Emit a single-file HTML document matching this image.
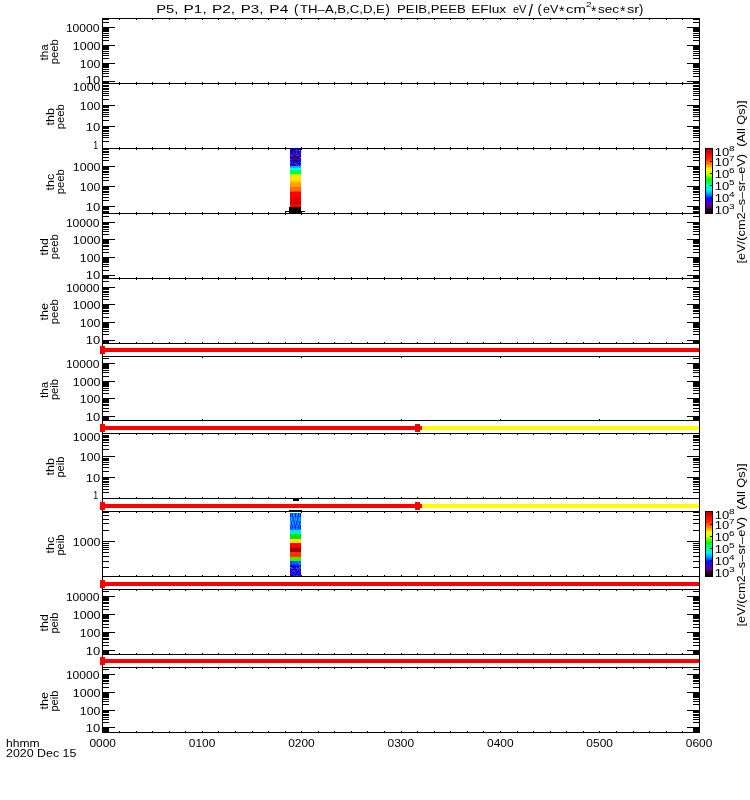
<!DOCTYPE html>
<html><head><meta charset="utf-8"><style>
html,body{margin:0;padding:0;background:#fff;width:750px;height:800px;overflow:hidden}
svg{display:block}
text{font-family:"Liberation Sans",sans-serif;fill:#000}
</style></head><body>
<svg width="750" height="800" viewBox="0 0 750 800" font-family="Liberation Sans, sans-serif">
<defs><linearGradient id="cb" x1="0" y1="0" x2="0" y2="1">
<stop offset="0.0000" stop-color="#b40000"/>
<stop offset="0.0547" stop-color="#e00000"/>
<stop offset="0.0781" stop-color="#ff0000"/>
<stop offset="0.1484" stop-color="#ff2800"/>
<stop offset="0.2031" stop-color="#ff6000"/>
<stop offset="0.2578" stop-color="#ffa000"/>
<stop offset="0.3203" stop-color="#ffff00"/>
<stop offset="0.3984" stop-color="#c0ff00"/>
<stop offset="0.4766" stop-color="#00ff00"/>
<stop offset="0.5625" stop-color="#00ff9a"/>
<stop offset="0.6406" stop-color="#00f0ff"/>
<stop offset="0.7109" stop-color="#0090ff"/>
<stop offset="0.7734" stop-color="#0010ff"/>
<stop offset="0.8281" stop-color="#4000e0"/>
<stop offset="0.8906" stop-color="#600090"/>
<stop offset="0.9375" stop-color="#300030"/>
<stop offset="0.9766" stop-color="#100008"/>
<stop offset="1.0000" stop-color="#000000"/>
</linearGradient><filter id="idf" filterUnits="userSpaceOnUse" x="0" y="0" width="750" height="800"><feColorMatrix type="identity"/></filter></defs>
<rect x="0" y="0" width="750" height="800" fill="#fff"/>
<g shape-rendering="crispEdges">
<rect x="102" y="18" width="598" height="1" fill="#000"/>
<rect x="102" y="83" width="598" height="1" fill="#000"/>
<rect x="102" y="18" width="1" height="66" fill="#000"/>
<rect x="699" y="18" width="1" height="66" fill="#000"/>
<rect x="102" y="82" width="7" height="1" fill="#000"/>
<rect x="693" y="82" width="7" height="1" fill="#000"/>
<rect x="102" y="81" width="13" height="1" fill="#000"/>
<rect x="687" y="81" width="13" height="1" fill="#000"/>
<rect x="102" y="76" width="7" height="1" fill="#000"/>
<rect x="693" y="76" width="7" height="1" fill="#000"/>
<rect x="102" y="73" width="7" height="1" fill="#000"/>
<rect x="693" y="73" width="7" height="1" fill="#000"/>
<rect x="102" y="71" width="7" height="1" fill="#000"/>
<rect x="693" y="71" width="7" height="1" fill="#000"/>
<rect x="102" y="69" width="7" height="1" fill="#000"/>
<rect x="693" y="69" width="7" height="1" fill="#000"/>
<rect x="102" y="67" width="7" height="1" fill="#000"/>
<rect x="693" y="67" width="7" height="1" fill="#000"/>
<rect x="102" y="66" width="7" height="1" fill="#000"/>
<rect x="693" y="66" width="7" height="1" fill="#000"/>
<rect x="102" y="65" width="7" height="1" fill="#000"/>
<rect x="693" y="65" width="7" height="1" fill="#000"/>
<rect x="102" y="64" width="7" height="1" fill="#000"/>
<rect x="693" y="64" width="7" height="1" fill="#000"/>
<rect x="102" y="63" width="13" height="1" fill="#000"/>
<rect x="687" y="63" width="13" height="1" fill="#000"/>
<rect x="102" y="58" width="7" height="1" fill="#000"/>
<rect x="693" y="58" width="7" height="1" fill="#000"/>
<rect x="102" y="55" width="7" height="1" fill="#000"/>
<rect x="693" y="55" width="7" height="1" fill="#000"/>
<rect x="102" y="53" width="7" height="1" fill="#000"/>
<rect x="693" y="53" width="7" height="1" fill="#000"/>
<rect x="102" y="51" width="7" height="1" fill="#000"/>
<rect x="693" y="51" width="7" height="1" fill="#000"/>
<rect x="102" y="49" width="7" height="1" fill="#000"/>
<rect x="693" y="49" width="7" height="1" fill="#000"/>
<rect x="102" y="48" width="7" height="1" fill="#000"/>
<rect x="693" y="48" width="7" height="1" fill="#000"/>
<rect x="102" y="47" width="7" height="1" fill="#000"/>
<rect x="693" y="47" width="7" height="1" fill="#000"/>
<rect x="102" y="46" width="7" height="1" fill="#000"/>
<rect x="693" y="46" width="7" height="1" fill="#000"/>
<rect x="102" y="45" width="13" height="1" fill="#000"/>
<rect x="687" y="45" width="13" height="1" fill="#000"/>
<rect x="102" y="40" width="7" height="1" fill="#000"/>
<rect x="693" y="40" width="7" height="1" fill="#000"/>
<rect x="102" y="37" width="7" height="1" fill="#000"/>
<rect x="693" y="37" width="7" height="1" fill="#000"/>
<rect x="102" y="35" width="7" height="1" fill="#000"/>
<rect x="693" y="35" width="7" height="1" fill="#000"/>
<rect x="102" y="33" width="7" height="1" fill="#000"/>
<rect x="693" y="33" width="7" height="1" fill="#000"/>
<rect x="102" y="31" width="7" height="1" fill="#000"/>
<rect x="693" y="31" width="7" height="1" fill="#000"/>
<rect x="102" y="30" width="7" height="1" fill="#000"/>
<rect x="693" y="30" width="7" height="1" fill="#000"/>
<rect x="102" y="29" width="7" height="1" fill="#000"/>
<rect x="693" y="29" width="7" height="1" fill="#000"/>
<rect x="102" y="28" width="7" height="1" fill="#000"/>
<rect x="693" y="28" width="7" height="1" fill="#000"/>
<rect x="102" y="27" width="13" height="1" fill="#000"/>
<rect x="687" y="27" width="13" height="1" fill="#000"/>
<rect x="102" y="22" width="7" height="1" fill="#000"/>
<rect x="693" y="22" width="7" height="1" fill="#000"/>
<rect x="102" y="19" width="7" height="1" fill="#000"/>
<rect x="693" y="19" width="7" height="1" fill="#000"/>
<rect x="119" y="19" width="1" height="1" fill="#000"/>
<rect x="119" y="82" width="1" height="1" fill="#000"/>
<rect x="136" y="19" width="1" height="1" fill="#000"/>
<rect x="136" y="82" width="1" height="1" fill="#000"/>
<rect x="152" y="19" width="1" height="1" fill="#000"/>
<rect x="152" y="82" width="1" height="1" fill="#000"/>
<rect x="169" y="19" width="1" height="1" fill="#000"/>
<rect x="169" y="82" width="1" height="1" fill="#000"/>
<rect x="185" y="19" width="1" height="1" fill="#000"/>
<rect x="185" y="82" width="1" height="1" fill="#000"/>
<rect x="202" y="19" width="1" height="1" fill="#000"/>
<rect x="202" y="82" width="1" height="1" fill="#000"/>
<rect x="218" y="19" width="1" height="1" fill="#000"/>
<rect x="218" y="82" width="1" height="1" fill="#000"/>
<rect x="235" y="19" width="1" height="1" fill="#000"/>
<rect x="235" y="82" width="1" height="1" fill="#000"/>
<rect x="252" y="19" width="1" height="1" fill="#000"/>
<rect x="252" y="82" width="1" height="1" fill="#000"/>
<rect x="268" y="19" width="1" height="1" fill="#000"/>
<rect x="268" y="82" width="1" height="1" fill="#000"/>
<rect x="285" y="19" width="1" height="1" fill="#000"/>
<rect x="285" y="82" width="1" height="1" fill="#000"/>
<rect x="301" y="19" width="1" height="1" fill="#000"/>
<rect x="301" y="82" width="1" height="1" fill="#000"/>
<rect x="318" y="19" width="1" height="1" fill="#000"/>
<rect x="318" y="82" width="1" height="1" fill="#000"/>
<rect x="334" y="19" width="1" height="1" fill="#000"/>
<rect x="334" y="82" width="1" height="1" fill="#000"/>
<rect x="351" y="19" width="1" height="1" fill="#000"/>
<rect x="351" y="82" width="1" height="1" fill="#000"/>
<rect x="367" y="19" width="1" height="1" fill="#000"/>
<rect x="367" y="82" width="1" height="1" fill="#000"/>
<rect x="384" y="19" width="1" height="1" fill="#000"/>
<rect x="384" y="82" width="1" height="1" fill="#000"/>
<rect x="401" y="19" width="1" height="1" fill="#000"/>
<rect x="401" y="82" width="1" height="1" fill="#000"/>
<rect x="417" y="19" width="1" height="1" fill="#000"/>
<rect x="417" y="82" width="1" height="1" fill="#000"/>
<rect x="434" y="19" width="1" height="1" fill="#000"/>
<rect x="434" y="82" width="1" height="1" fill="#000"/>
<rect x="450" y="19" width="1" height="1" fill="#000"/>
<rect x="450" y="82" width="1" height="1" fill="#000"/>
<rect x="467" y="19" width="1" height="1" fill="#000"/>
<rect x="467" y="82" width="1" height="1" fill="#000"/>
<rect x="483" y="19" width="1" height="1" fill="#000"/>
<rect x="483" y="82" width="1" height="1" fill="#000"/>
<rect x="500" y="19" width="1" height="1" fill="#000"/>
<rect x="500" y="82" width="1" height="1" fill="#000"/>
<rect x="517" y="19" width="1" height="1" fill="#000"/>
<rect x="517" y="82" width="1" height="1" fill="#000"/>
<rect x="533" y="19" width="1" height="1" fill="#000"/>
<rect x="533" y="82" width="1" height="1" fill="#000"/>
<rect x="550" y="19" width="1" height="1" fill="#000"/>
<rect x="550" y="82" width="1" height="1" fill="#000"/>
<rect x="566" y="19" width="1" height="1" fill="#000"/>
<rect x="566" y="82" width="1" height="1" fill="#000"/>
<rect x="583" y="19" width="1" height="1" fill="#000"/>
<rect x="583" y="82" width="1" height="1" fill="#000"/>
<rect x="599" y="19" width="1" height="1" fill="#000"/>
<rect x="599" y="82" width="1" height="1" fill="#000"/>
<rect x="616" y="19" width="1" height="1" fill="#000"/>
<rect x="616" y="82" width="1" height="1" fill="#000"/>
<rect x="633" y="19" width="1" height="1" fill="#000"/>
<rect x="633" y="82" width="1" height="1" fill="#000"/>
<rect x="649" y="19" width="1" height="1" fill="#000"/>
<rect x="649" y="82" width="1" height="1" fill="#000"/>
<rect x="666" y="19" width="1" height="1" fill="#000"/>
<rect x="666" y="82" width="1" height="1" fill="#000"/>
<rect x="682" y="19" width="1" height="1" fill="#000"/>
<rect x="682" y="82" width="1" height="1" fill="#000"/>
<rect x="102" y="83" width="598" height="1" fill="#000"/>
<rect x="102" y="148" width="598" height="1" fill="#000"/>
<rect x="102" y="83" width="1" height="66" fill="#000"/>
<rect x="699" y="83" width="1" height="66" fill="#000"/>
<rect x="102" y="141" width="7" height="1" fill="#000"/>
<rect x="693" y="141" width="7" height="1" fill="#000"/>
<rect x="102" y="137" width="7" height="1" fill="#000"/>
<rect x="693" y="137" width="7" height="1" fill="#000"/>
<rect x="102" y="135" width="7" height="1" fill="#000"/>
<rect x="693" y="135" width="7" height="1" fill="#000"/>
<rect x="102" y="133" width="7" height="1" fill="#000"/>
<rect x="693" y="133" width="7" height="1" fill="#000"/>
<rect x="102" y="131" width="7" height="1" fill="#000"/>
<rect x="693" y="131" width="7" height="1" fill="#000"/>
<rect x="102" y="130" width="7" height="1" fill="#000"/>
<rect x="693" y="130" width="7" height="1" fill="#000"/>
<rect x="102" y="128" width="7" height="1" fill="#000"/>
<rect x="693" y="128" width="7" height="1" fill="#000"/>
<rect x="102" y="127" width="7" height="1" fill="#000"/>
<rect x="693" y="127" width="7" height="1" fill="#000"/>
<rect x="102" y="126" width="13" height="1" fill="#000"/>
<rect x="687" y="126" width="13" height="1" fill="#000"/>
<rect x="102" y="120" width="7" height="1" fill="#000"/>
<rect x="693" y="120" width="7" height="1" fill="#000"/>
<rect x="102" y="116" width="7" height="1" fill="#000"/>
<rect x="693" y="116" width="7" height="1" fill="#000"/>
<rect x="102" y="114" width="7" height="1" fill="#000"/>
<rect x="693" y="114" width="7" height="1" fill="#000"/>
<rect x="102" y="112" width="7" height="1" fill="#000"/>
<rect x="693" y="112" width="7" height="1" fill="#000"/>
<rect x="102" y="110" width="7" height="1" fill="#000"/>
<rect x="693" y="110" width="7" height="1" fill="#000"/>
<rect x="102" y="109" width="7" height="1" fill="#000"/>
<rect x="693" y="109" width="7" height="1" fill="#000"/>
<rect x="102" y="107" width="7" height="1" fill="#000"/>
<rect x="693" y="107" width="7" height="1" fill="#000"/>
<rect x="102" y="106" width="7" height="1" fill="#000"/>
<rect x="693" y="106" width="7" height="1" fill="#000"/>
<rect x="102" y="105" width="13" height="1" fill="#000"/>
<rect x="687" y="105" width="13" height="1" fill="#000"/>
<rect x="102" y="99" width="7" height="1" fill="#000"/>
<rect x="693" y="99" width="7" height="1" fill="#000"/>
<rect x="102" y="95" width="7" height="1" fill="#000"/>
<rect x="693" y="95" width="7" height="1" fill="#000"/>
<rect x="102" y="93" width="7" height="1" fill="#000"/>
<rect x="693" y="93" width="7" height="1" fill="#000"/>
<rect x="102" y="91" width="7" height="1" fill="#000"/>
<rect x="693" y="91" width="7" height="1" fill="#000"/>
<rect x="102" y="89" width="7" height="1" fill="#000"/>
<rect x="693" y="89" width="7" height="1" fill="#000"/>
<rect x="102" y="88" width="7" height="1" fill="#000"/>
<rect x="693" y="88" width="7" height="1" fill="#000"/>
<rect x="102" y="86" width="7" height="1" fill="#000"/>
<rect x="693" y="86" width="7" height="1" fill="#000"/>
<rect x="102" y="85" width="7" height="1" fill="#000"/>
<rect x="693" y="85" width="7" height="1" fill="#000"/>
<rect x="119" y="84" width="1" height="1" fill="#000"/>
<rect x="119" y="147" width="1" height="1" fill="#000"/>
<rect x="136" y="84" width="1" height="1" fill="#000"/>
<rect x="136" y="147" width="1" height="1" fill="#000"/>
<rect x="152" y="84" width="1" height="1" fill="#000"/>
<rect x="152" y="147" width="1" height="1" fill="#000"/>
<rect x="169" y="84" width="1" height="1" fill="#000"/>
<rect x="169" y="147" width="1" height="1" fill="#000"/>
<rect x="185" y="84" width="1" height="1" fill="#000"/>
<rect x="185" y="147" width="1" height="1" fill="#000"/>
<rect x="202" y="84" width="1" height="1" fill="#000"/>
<rect x="202" y="147" width="1" height="1" fill="#000"/>
<rect x="218" y="84" width="1" height="1" fill="#000"/>
<rect x="218" y="147" width="1" height="1" fill="#000"/>
<rect x="235" y="84" width="1" height="1" fill="#000"/>
<rect x="235" y="147" width="1" height="1" fill="#000"/>
<rect x="252" y="84" width="1" height="1" fill="#000"/>
<rect x="252" y="147" width="1" height="1" fill="#000"/>
<rect x="268" y="84" width="1" height="1" fill="#000"/>
<rect x="268" y="147" width="1" height="1" fill="#000"/>
<rect x="285" y="84" width="1" height="1" fill="#000"/>
<rect x="285" y="147" width="1" height="1" fill="#000"/>
<rect x="301" y="84" width="1" height="1" fill="#000"/>
<rect x="301" y="147" width="1" height="1" fill="#000"/>
<rect x="318" y="84" width="1" height="1" fill="#000"/>
<rect x="318" y="147" width="1" height="1" fill="#000"/>
<rect x="334" y="84" width="1" height="1" fill="#000"/>
<rect x="334" y="147" width="1" height="1" fill="#000"/>
<rect x="351" y="84" width="1" height="1" fill="#000"/>
<rect x="351" y="147" width="1" height="1" fill="#000"/>
<rect x="367" y="84" width="1" height="1" fill="#000"/>
<rect x="367" y="147" width="1" height="1" fill="#000"/>
<rect x="384" y="84" width="1" height="1" fill="#000"/>
<rect x="384" y="147" width="1" height="1" fill="#000"/>
<rect x="401" y="84" width="1" height="1" fill="#000"/>
<rect x="401" y="147" width="1" height="1" fill="#000"/>
<rect x="417" y="84" width="1" height="1" fill="#000"/>
<rect x="417" y="147" width="1" height="1" fill="#000"/>
<rect x="434" y="84" width="1" height="1" fill="#000"/>
<rect x="434" y="147" width="1" height="1" fill="#000"/>
<rect x="450" y="84" width="1" height="1" fill="#000"/>
<rect x="450" y="147" width="1" height="1" fill="#000"/>
<rect x="467" y="84" width="1" height="1" fill="#000"/>
<rect x="467" y="147" width="1" height="1" fill="#000"/>
<rect x="483" y="84" width="1" height="1" fill="#000"/>
<rect x="483" y="147" width="1" height="1" fill="#000"/>
<rect x="500" y="84" width="1" height="1" fill="#000"/>
<rect x="500" y="147" width="1" height="1" fill="#000"/>
<rect x="517" y="84" width="1" height="1" fill="#000"/>
<rect x="517" y="147" width="1" height="1" fill="#000"/>
<rect x="533" y="84" width="1" height="1" fill="#000"/>
<rect x="533" y="147" width="1" height="1" fill="#000"/>
<rect x="550" y="84" width="1" height="1" fill="#000"/>
<rect x="550" y="147" width="1" height="1" fill="#000"/>
<rect x="566" y="84" width="1" height="1" fill="#000"/>
<rect x="566" y="147" width="1" height="1" fill="#000"/>
<rect x="583" y="84" width="1" height="1" fill="#000"/>
<rect x="583" y="147" width="1" height="1" fill="#000"/>
<rect x="599" y="84" width="1" height="1" fill="#000"/>
<rect x="599" y="147" width="1" height="1" fill="#000"/>
<rect x="616" y="84" width="1" height="1" fill="#000"/>
<rect x="616" y="147" width="1" height="1" fill="#000"/>
<rect x="633" y="84" width="1" height="1" fill="#000"/>
<rect x="633" y="147" width="1" height="1" fill="#000"/>
<rect x="649" y="84" width="1" height="1" fill="#000"/>
<rect x="649" y="147" width="1" height="1" fill="#000"/>
<rect x="666" y="84" width="1" height="1" fill="#000"/>
<rect x="666" y="147" width="1" height="1" fill="#000"/>
<rect x="682" y="84" width="1" height="1" fill="#000"/>
<rect x="682" y="147" width="1" height="1" fill="#000"/>
<rect x="102" y="148" width="598" height="1" fill="#000"/>
<rect x="102" y="213" width="598" height="1" fill="#000"/>
<rect x="102" y="148" width="1" height="66" fill="#000"/>
<rect x="699" y="148" width="1" height="66" fill="#000"/>
<rect x="102" y="212" width="7" height="1" fill="#000"/>
<rect x="693" y="212" width="7" height="1" fill="#000"/>
<rect x="102" y="211" width="7" height="1" fill="#000"/>
<rect x="693" y="211" width="7" height="1" fill="#000"/>
<rect x="102" y="209" width="7" height="1" fill="#000"/>
<rect x="693" y="209" width="7" height="1" fill="#000"/>
<rect x="102" y="208" width="7" height="1" fill="#000"/>
<rect x="693" y="208" width="7" height="1" fill="#000"/>
<rect x="102" y="207" width="7" height="1" fill="#000"/>
<rect x="693" y="207" width="7" height="1" fill="#000"/>
<rect x="102" y="206" width="13" height="1" fill="#000"/>
<rect x="687" y="206" width="13" height="1" fill="#000"/>
<rect x="102" y="200" width="7" height="1" fill="#000"/>
<rect x="693" y="200" width="7" height="1" fill="#000"/>
<rect x="102" y="197" width="7" height="1" fill="#000"/>
<rect x="693" y="197" width="7" height="1" fill="#000"/>
<rect x="102" y="194" width="7" height="1" fill="#000"/>
<rect x="693" y="194" width="7" height="1" fill="#000"/>
<rect x="102" y="192" width="7" height="1" fill="#000"/>
<rect x="693" y="192" width="7" height="1" fill="#000"/>
<rect x="102" y="191" width="7" height="1" fill="#000"/>
<rect x="693" y="191" width="7" height="1" fill="#000"/>
<rect x="102" y="189" width="7" height="1" fill="#000"/>
<rect x="693" y="189" width="7" height="1" fill="#000"/>
<rect x="102" y="188" width="7" height="1" fill="#000"/>
<rect x="693" y="188" width="7" height="1" fill="#000"/>
<rect x="102" y="187" width="7" height="1" fill="#000"/>
<rect x="693" y="187" width="7" height="1" fill="#000"/>
<rect x="102" y="186" width="13" height="1" fill="#000"/>
<rect x="687" y="186" width="13" height="1" fill="#000"/>
<rect x="102" y="180" width="7" height="1" fill="#000"/>
<rect x="693" y="180" width="7" height="1" fill="#000"/>
<rect x="102" y="177" width="7" height="1" fill="#000"/>
<rect x="693" y="177" width="7" height="1" fill="#000"/>
<rect x="102" y="174" width="7" height="1" fill="#000"/>
<rect x="693" y="174" width="7" height="1" fill="#000"/>
<rect x="102" y="172" width="7" height="1" fill="#000"/>
<rect x="693" y="172" width="7" height="1" fill="#000"/>
<rect x="102" y="171" width="7" height="1" fill="#000"/>
<rect x="693" y="171" width="7" height="1" fill="#000"/>
<rect x="102" y="169" width="7" height="1" fill="#000"/>
<rect x="693" y="169" width="7" height="1" fill="#000"/>
<rect x="102" y="168" width="7" height="1" fill="#000"/>
<rect x="693" y="168" width="7" height="1" fill="#000"/>
<rect x="102" y="167" width="7" height="1" fill="#000"/>
<rect x="693" y="167" width="7" height="1" fill="#000"/>
<rect x="102" y="166" width="13" height="1" fill="#000"/>
<rect x="687" y="166" width="13" height="1" fill="#000"/>
<rect x="102" y="160" width="7" height="1" fill="#000"/>
<rect x="693" y="160" width="7" height="1" fill="#000"/>
<rect x="102" y="157" width="7" height="1" fill="#000"/>
<rect x="693" y="157" width="7" height="1" fill="#000"/>
<rect x="102" y="154" width="7" height="1" fill="#000"/>
<rect x="693" y="154" width="7" height="1" fill="#000"/>
<rect x="102" y="152" width="7" height="1" fill="#000"/>
<rect x="693" y="152" width="7" height="1" fill="#000"/>
<rect x="102" y="151" width="7" height="1" fill="#000"/>
<rect x="693" y="151" width="7" height="1" fill="#000"/>
<rect x="102" y="149" width="7" height="1" fill="#000"/>
<rect x="693" y="149" width="7" height="1" fill="#000"/>
<rect x="119" y="149" width="1" height="1" fill="#000"/>
<rect x="119" y="212" width="1" height="1" fill="#000"/>
<rect x="136" y="149" width="1" height="1" fill="#000"/>
<rect x="136" y="212" width="1" height="1" fill="#000"/>
<rect x="152" y="149" width="1" height="1" fill="#000"/>
<rect x="152" y="212" width="1" height="1" fill="#000"/>
<rect x="169" y="149" width="1" height="1" fill="#000"/>
<rect x="169" y="212" width="1" height="1" fill="#000"/>
<rect x="185" y="149" width="1" height="1" fill="#000"/>
<rect x="185" y="212" width="1" height="1" fill="#000"/>
<rect x="202" y="149" width="1" height="1" fill="#000"/>
<rect x="202" y="212" width="1" height="1" fill="#000"/>
<rect x="218" y="149" width="1" height="1" fill="#000"/>
<rect x="218" y="212" width="1" height="1" fill="#000"/>
<rect x="235" y="149" width="1" height="1" fill="#000"/>
<rect x="235" y="212" width="1" height="1" fill="#000"/>
<rect x="252" y="149" width="1" height="1" fill="#000"/>
<rect x="252" y="212" width="1" height="1" fill="#000"/>
<rect x="268" y="149" width="1" height="1" fill="#000"/>
<rect x="268" y="212" width="1" height="1" fill="#000"/>
<rect x="285" y="149" width="1" height="1" fill="#000"/>
<rect x="285" y="212" width="1" height="1" fill="#000"/>
<rect x="301" y="149" width="1" height="1" fill="#000"/>
<rect x="301" y="212" width="1" height="1" fill="#000"/>
<rect x="318" y="149" width="1" height="1" fill="#000"/>
<rect x="318" y="212" width="1" height="1" fill="#000"/>
<rect x="334" y="149" width="1" height="1" fill="#000"/>
<rect x="334" y="212" width="1" height="1" fill="#000"/>
<rect x="351" y="149" width="1" height="1" fill="#000"/>
<rect x="351" y="212" width="1" height="1" fill="#000"/>
<rect x="367" y="149" width="1" height="1" fill="#000"/>
<rect x="367" y="212" width="1" height="1" fill="#000"/>
<rect x="384" y="149" width="1" height="1" fill="#000"/>
<rect x="384" y="212" width="1" height="1" fill="#000"/>
<rect x="401" y="149" width="1" height="1" fill="#000"/>
<rect x="401" y="212" width="1" height="1" fill="#000"/>
<rect x="417" y="149" width="1" height="1" fill="#000"/>
<rect x="417" y="212" width="1" height="1" fill="#000"/>
<rect x="434" y="149" width="1" height="1" fill="#000"/>
<rect x="434" y="212" width="1" height="1" fill="#000"/>
<rect x="450" y="149" width="1" height="1" fill="#000"/>
<rect x="450" y="212" width="1" height="1" fill="#000"/>
<rect x="467" y="149" width="1" height="1" fill="#000"/>
<rect x="467" y="212" width="1" height="1" fill="#000"/>
<rect x="483" y="149" width="1" height="1" fill="#000"/>
<rect x="483" y="212" width="1" height="1" fill="#000"/>
<rect x="500" y="149" width="1" height="1" fill="#000"/>
<rect x="500" y="212" width="1" height="1" fill="#000"/>
<rect x="517" y="149" width="1" height="1" fill="#000"/>
<rect x="517" y="212" width="1" height="1" fill="#000"/>
<rect x="533" y="149" width="1" height="1" fill="#000"/>
<rect x="533" y="212" width="1" height="1" fill="#000"/>
<rect x="550" y="149" width="1" height="1" fill="#000"/>
<rect x="550" y="212" width="1" height="1" fill="#000"/>
<rect x="566" y="149" width="1" height="1" fill="#000"/>
<rect x="566" y="212" width="1" height="1" fill="#000"/>
<rect x="583" y="149" width="1" height="1" fill="#000"/>
<rect x="583" y="212" width="1" height="1" fill="#000"/>
<rect x="599" y="149" width="1" height="1" fill="#000"/>
<rect x="599" y="212" width="1" height="1" fill="#000"/>
<rect x="616" y="149" width="1" height="1" fill="#000"/>
<rect x="616" y="212" width="1" height="1" fill="#000"/>
<rect x="633" y="149" width="1" height="1" fill="#000"/>
<rect x="633" y="212" width="1" height="1" fill="#000"/>
<rect x="649" y="149" width="1" height="1" fill="#000"/>
<rect x="649" y="212" width="1" height="1" fill="#000"/>
<rect x="666" y="149" width="1" height="1" fill="#000"/>
<rect x="666" y="212" width="1" height="1" fill="#000"/>
<rect x="682" y="149" width="1" height="1" fill="#000"/>
<rect x="682" y="212" width="1" height="1" fill="#000"/>
<rect x="102" y="213" width="598" height="1" fill="#000"/>
<rect x="102" y="278" width="598" height="1" fill="#000"/>
<rect x="102" y="213" width="1" height="66" fill="#000"/>
<rect x="699" y="213" width="1" height="66" fill="#000"/>
<rect x="102" y="277" width="7" height="1" fill="#000"/>
<rect x="693" y="277" width="7" height="1" fill="#000"/>
<rect x="102" y="276" width="7" height="1" fill="#000"/>
<rect x="693" y="276" width="7" height="1" fill="#000"/>
<rect x="102" y="275" width="13" height="1" fill="#000"/>
<rect x="687" y="275" width="13" height="1" fill="#000"/>
<rect x="102" y="270" width="7" height="1" fill="#000"/>
<rect x="693" y="270" width="7" height="1" fill="#000"/>
<rect x="102" y="266" width="7" height="1" fill="#000"/>
<rect x="693" y="266" width="7" height="1" fill="#000"/>
<rect x="102" y="264" width="7" height="1" fill="#000"/>
<rect x="693" y="264" width="7" height="1" fill="#000"/>
<rect x="102" y="262" width="7" height="1" fill="#000"/>
<rect x="693" y="262" width="7" height="1" fill="#000"/>
<rect x="102" y="261" width="7" height="1" fill="#000"/>
<rect x="693" y="261" width="7" height="1" fill="#000"/>
<rect x="102" y="260" width="7" height="1" fill="#000"/>
<rect x="693" y="260" width="7" height="1" fill="#000"/>
<rect x="102" y="259" width="7" height="1" fill="#000"/>
<rect x="693" y="259" width="7" height="1" fill="#000"/>
<rect x="102" y="258" width="7" height="1" fill="#000"/>
<rect x="693" y="258" width="7" height="1" fill="#000"/>
<rect x="102" y="257" width="13" height="1" fill="#000"/>
<rect x="687" y="257" width="13" height="1" fill="#000"/>
<rect x="102" y="252" width="7" height="1" fill="#000"/>
<rect x="693" y="252" width="7" height="1" fill="#000"/>
<rect x="102" y="249" width="7" height="1" fill="#000"/>
<rect x="693" y="249" width="7" height="1" fill="#000"/>
<rect x="102" y="246" width="7" height="1" fill="#000"/>
<rect x="693" y="246" width="7" height="1" fill="#000"/>
<rect x="102" y="245" width="7" height="1" fill="#000"/>
<rect x="693" y="245" width="7" height="1" fill="#000"/>
<rect x="102" y="243" width="7" height="1" fill="#000"/>
<rect x="693" y="243" width="7" height="1" fill="#000"/>
<rect x="102" y="242" width="7" height="1" fill="#000"/>
<rect x="693" y="242" width="7" height="1" fill="#000"/>
<rect x="102" y="241" width="7" height="1" fill="#000"/>
<rect x="693" y="241" width="7" height="1" fill="#000"/>
<rect x="102" y="240" width="7" height="1" fill="#000"/>
<rect x="693" y="240" width="7" height="1" fill="#000"/>
<rect x="102" y="239" width="13" height="1" fill="#000"/>
<rect x="687" y="239" width="13" height="1" fill="#000"/>
<rect x="102" y="234" width="7" height="1" fill="#000"/>
<rect x="693" y="234" width="7" height="1" fill="#000"/>
<rect x="102" y="231" width="7" height="1" fill="#000"/>
<rect x="693" y="231" width="7" height="1" fill="#000"/>
<rect x="102" y="229" width="7" height="1" fill="#000"/>
<rect x="693" y="229" width="7" height="1" fill="#000"/>
<rect x="102" y="227" width="7" height="1" fill="#000"/>
<rect x="693" y="227" width="7" height="1" fill="#000"/>
<rect x="102" y="226" width="7" height="1" fill="#000"/>
<rect x="693" y="226" width="7" height="1" fill="#000"/>
<rect x="102" y="224" width="7" height="1" fill="#000"/>
<rect x="693" y="224" width="7" height="1" fill="#000"/>
<rect x="102" y="223" width="7" height="1" fill="#000"/>
<rect x="693" y="223" width="7" height="1" fill="#000"/>
<rect x="102" y="222" width="7" height="1" fill="#000"/>
<rect x="693" y="222" width="7" height="1" fill="#000"/>
<rect x="102" y="222" width="13" height="1" fill="#000"/>
<rect x="687" y="222" width="13" height="1" fill="#000"/>
<rect x="102" y="216" width="7" height="1" fill="#000"/>
<rect x="693" y="216" width="7" height="1" fill="#000"/>
<rect x="119" y="214" width="1" height="1" fill="#000"/>
<rect x="119" y="277" width="1" height="1" fill="#000"/>
<rect x="136" y="214" width="1" height="1" fill="#000"/>
<rect x="136" y="277" width="1" height="1" fill="#000"/>
<rect x="152" y="214" width="1" height="1" fill="#000"/>
<rect x="152" y="277" width="1" height="1" fill="#000"/>
<rect x="169" y="214" width="1" height="1" fill="#000"/>
<rect x="169" y="277" width="1" height="1" fill="#000"/>
<rect x="185" y="214" width="1" height="1" fill="#000"/>
<rect x="185" y="277" width="1" height="1" fill="#000"/>
<rect x="202" y="214" width="1" height="1" fill="#000"/>
<rect x="202" y="277" width="1" height="1" fill="#000"/>
<rect x="218" y="214" width="1" height="1" fill="#000"/>
<rect x="218" y="277" width="1" height="1" fill="#000"/>
<rect x="235" y="214" width="1" height="1" fill="#000"/>
<rect x="235" y="277" width="1" height="1" fill="#000"/>
<rect x="252" y="214" width="1" height="1" fill="#000"/>
<rect x="252" y="277" width="1" height="1" fill="#000"/>
<rect x="268" y="214" width="1" height="1" fill="#000"/>
<rect x="268" y="277" width="1" height="1" fill="#000"/>
<rect x="285" y="214" width="1" height="1" fill="#000"/>
<rect x="285" y="277" width="1" height="1" fill="#000"/>
<rect x="301" y="214" width="1" height="1" fill="#000"/>
<rect x="301" y="277" width="1" height="1" fill="#000"/>
<rect x="318" y="214" width="1" height="1" fill="#000"/>
<rect x="318" y="277" width="1" height="1" fill="#000"/>
<rect x="334" y="214" width="1" height="1" fill="#000"/>
<rect x="334" y="277" width="1" height="1" fill="#000"/>
<rect x="351" y="214" width="1" height="1" fill="#000"/>
<rect x="351" y="277" width="1" height="1" fill="#000"/>
<rect x="367" y="214" width="1" height="1" fill="#000"/>
<rect x="367" y="277" width="1" height="1" fill="#000"/>
<rect x="384" y="214" width="1" height="1" fill="#000"/>
<rect x="384" y="277" width="1" height="1" fill="#000"/>
<rect x="401" y="214" width="1" height="1" fill="#000"/>
<rect x="401" y="277" width="1" height="1" fill="#000"/>
<rect x="417" y="214" width="1" height="1" fill="#000"/>
<rect x="417" y="277" width="1" height="1" fill="#000"/>
<rect x="434" y="214" width="1" height="1" fill="#000"/>
<rect x="434" y="277" width="1" height="1" fill="#000"/>
<rect x="450" y="214" width="1" height="1" fill="#000"/>
<rect x="450" y="277" width="1" height="1" fill="#000"/>
<rect x="467" y="214" width="1" height="1" fill="#000"/>
<rect x="467" y="277" width="1" height="1" fill="#000"/>
<rect x="483" y="214" width="1" height="1" fill="#000"/>
<rect x="483" y="277" width="1" height="1" fill="#000"/>
<rect x="500" y="214" width="1" height="1" fill="#000"/>
<rect x="500" y="277" width="1" height="1" fill="#000"/>
<rect x="517" y="214" width="1" height="1" fill="#000"/>
<rect x="517" y="277" width="1" height="1" fill="#000"/>
<rect x="533" y="214" width="1" height="1" fill="#000"/>
<rect x="533" y="277" width="1" height="1" fill="#000"/>
<rect x="550" y="214" width="1" height="1" fill="#000"/>
<rect x="550" y="277" width="1" height="1" fill="#000"/>
<rect x="566" y="214" width="1" height="1" fill="#000"/>
<rect x="566" y="277" width="1" height="1" fill="#000"/>
<rect x="583" y="214" width="1" height="1" fill="#000"/>
<rect x="583" y="277" width="1" height="1" fill="#000"/>
<rect x="599" y="214" width="1" height="1" fill="#000"/>
<rect x="599" y="277" width="1" height="1" fill="#000"/>
<rect x="616" y="214" width="1" height="1" fill="#000"/>
<rect x="616" y="277" width="1" height="1" fill="#000"/>
<rect x="633" y="214" width="1" height="1" fill="#000"/>
<rect x="633" y="277" width="1" height="1" fill="#000"/>
<rect x="649" y="214" width="1" height="1" fill="#000"/>
<rect x="649" y="277" width="1" height="1" fill="#000"/>
<rect x="666" y="214" width="1" height="1" fill="#000"/>
<rect x="666" y="277" width="1" height="1" fill="#000"/>
<rect x="682" y="214" width="1" height="1" fill="#000"/>
<rect x="682" y="277" width="1" height="1" fill="#000"/>
<rect x="102" y="278" width="598" height="1" fill="#000"/>
<rect x="102" y="343" width="598" height="1" fill="#000"/>
<rect x="102" y="278" width="1" height="66" fill="#000"/>
<rect x="699" y="278" width="1" height="66" fill="#000"/>
<rect x="102" y="342" width="7" height="1" fill="#000"/>
<rect x="693" y="342" width="7" height="1" fill="#000"/>
<rect x="102" y="341" width="7" height="1" fill="#000"/>
<rect x="693" y="341" width="7" height="1" fill="#000"/>
<rect x="102" y="340" width="7" height="1" fill="#000"/>
<rect x="693" y="340" width="7" height="1" fill="#000"/>
<rect x="102" y="340" width="13" height="1" fill="#000"/>
<rect x="687" y="340" width="13" height="1" fill="#000"/>
<rect x="102" y="334" width="7" height="1" fill="#000"/>
<rect x="693" y="334" width="7" height="1" fill="#000"/>
<rect x="102" y="331" width="7" height="1" fill="#000"/>
<rect x="693" y="331" width="7" height="1" fill="#000"/>
<rect x="102" y="329" width="7" height="1" fill="#000"/>
<rect x="693" y="329" width="7" height="1" fill="#000"/>
<rect x="102" y="327" width="7" height="1" fill="#000"/>
<rect x="693" y="327" width="7" height="1" fill="#000"/>
<rect x="102" y="326" width="7" height="1" fill="#000"/>
<rect x="693" y="326" width="7" height="1" fill="#000"/>
<rect x="102" y="325" width="7" height="1" fill="#000"/>
<rect x="693" y="325" width="7" height="1" fill="#000"/>
<rect x="102" y="324" width="7" height="1" fill="#000"/>
<rect x="693" y="324" width="7" height="1" fill="#000"/>
<rect x="102" y="323" width="7" height="1" fill="#000"/>
<rect x="693" y="323" width="7" height="1" fill="#000"/>
<rect x="102" y="322" width="13" height="1" fill="#000"/>
<rect x="687" y="322" width="13" height="1" fill="#000"/>
<rect x="102" y="317" width="7" height="1" fill="#000"/>
<rect x="693" y="317" width="7" height="1" fill="#000"/>
<rect x="102" y="313" width="7" height="1" fill="#000"/>
<rect x="693" y="313" width="7" height="1" fill="#000"/>
<rect x="102" y="311" width="7" height="1" fill="#000"/>
<rect x="693" y="311" width="7" height="1" fill="#000"/>
<rect x="102" y="310" width="7" height="1" fill="#000"/>
<rect x="693" y="310" width="7" height="1" fill="#000"/>
<rect x="102" y="308" width="7" height="1" fill="#000"/>
<rect x="693" y="308" width="7" height="1" fill="#000"/>
<rect x="102" y="307" width="7" height="1" fill="#000"/>
<rect x="693" y="307" width="7" height="1" fill="#000"/>
<rect x="102" y="306" width="7" height="1" fill="#000"/>
<rect x="693" y="306" width="7" height="1" fill="#000"/>
<rect x="102" y="305" width="7" height="1" fill="#000"/>
<rect x="693" y="305" width="7" height="1" fill="#000"/>
<rect x="102" y="304" width="13" height="1" fill="#000"/>
<rect x="687" y="304" width="13" height="1" fill="#000"/>
<rect x="102" y="299" width="7" height="1" fill="#000"/>
<rect x="693" y="299" width="7" height="1" fill="#000"/>
<rect x="102" y="296" width="7" height="1" fill="#000"/>
<rect x="693" y="296" width="7" height="1" fill="#000"/>
<rect x="102" y="294" width="7" height="1" fill="#000"/>
<rect x="693" y="294" width="7" height="1" fill="#000"/>
<rect x="102" y="292" width="7" height="1" fill="#000"/>
<rect x="693" y="292" width="7" height="1" fill="#000"/>
<rect x="102" y="291" width="7" height="1" fill="#000"/>
<rect x="693" y="291" width="7" height="1" fill="#000"/>
<rect x="102" y="289" width="7" height="1" fill="#000"/>
<rect x="693" y="289" width="7" height="1" fill="#000"/>
<rect x="102" y="288" width="7" height="1" fill="#000"/>
<rect x="693" y="288" width="7" height="1" fill="#000"/>
<rect x="102" y="287" width="7" height="1" fill="#000"/>
<rect x="693" y="287" width="7" height="1" fill="#000"/>
<rect x="102" y="287" width="13" height="1" fill="#000"/>
<rect x="687" y="287" width="13" height="1" fill="#000"/>
<rect x="102" y="281" width="7" height="1" fill="#000"/>
<rect x="693" y="281" width="7" height="1" fill="#000"/>
<rect x="119" y="279" width="1" height="1" fill="#000"/>
<rect x="119" y="342" width="1" height="1" fill="#000"/>
<rect x="136" y="279" width="1" height="1" fill="#000"/>
<rect x="136" y="342" width="1" height="1" fill="#000"/>
<rect x="152" y="279" width="1" height="1" fill="#000"/>
<rect x="152" y="342" width="1" height="1" fill="#000"/>
<rect x="169" y="279" width="1" height="1" fill="#000"/>
<rect x="169" y="342" width="1" height="1" fill="#000"/>
<rect x="185" y="279" width="1" height="1" fill="#000"/>
<rect x="185" y="342" width="1" height="1" fill="#000"/>
<rect x="202" y="279" width="1" height="1" fill="#000"/>
<rect x="202" y="342" width="1" height="1" fill="#000"/>
<rect x="218" y="279" width="1" height="1" fill="#000"/>
<rect x="218" y="342" width="1" height="1" fill="#000"/>
<rect x="235" y="279" width="1" height="1" fill="#000"/>
<rect x="235" y="342" width="1" height="1" fill="#000"/>
<rect x="252" y="279" width="1" height="1" fill="#000"/>
<rect x="252" y="342" width="1" height="1" fill="#000"/>
<rect x="268" y="279" width="1" height="1" fill="#000"/>
<rect x="268" y="342" width="1" height="1" fill="#000"/>
<rect x="285" y="279" width="1" height="1" fill="#000"/>
<rect x="285" y="342" width="1" height="1" fill="#000"/>
<rect x="301" y="279" width="1" height="1" fill="#000"/>
<rect x="301" y="342" width="1" height="1" fill="#000"/>
<rect x="318" y="279" width="1" height="1" fill="#000"/>
<rect x="318" y="342" width="1" height="1" fill="#000"/>
<rect x="334" y="279" width="1" height="1" fill="#000"/>
<rect x="334" y="342" width="1" height="1" fill="#000"/>
<rect x="351" y="279" width="1" height="1" fill="#000"/>
<rect x="351" y="342" width="1" height="1" fill="#000"/>
<rect x="367" y="279" width="1" height="1" fill="#000"/>
<rect x="367" y="342" width="1" height="1" fill="#000"/>
<rect x="384" y="279" width="1" height="1" fill="#000"/>
<rect x="384" y="342" width="1" height="1" fill="#000"/>
<rect x="401" y="279" width="1" height="1" fill="#000"/>
<rect x="401" y="342" width="1" height="1" fill="#000"/>
<rect x="417" y="279" width="1" height="1" fill="#000"/>
<rect x="417" y="342" width="1" height="1" fill="#000"/>
<rect x="434" y="279" width="1" height="1" fill="#000"/>
<rect x="434" y="342" width="1" height="1" fill="#000"/>
<rect x="450" y="279" width="1" height="1" fill="#000"/>
<rect x="450" y="342" width="1" height="1" fill="#000"/>
<rect x="467" y="279" width="1" height="1" fill="#000"/>
<rect x="467" y="342" width="1" height="1" fill="#000"/>
<rect x="483" y="279" width="1" height="1" fill="#000"/>
<rect x="483" y="342" width="1" height="1" fill="#000"/>
<rect x="500" y="279" width="1" height="1" fill="#000"/>
<rect x="500" y="342" width="1" height="1" fill="#000"/>
<rect x="517" y="279" width="1" height="1" fill="#000"/>
<rect x="517" y="342" width="1" height="1" fill="#000"/>
<rect x="533" y="279" width="1" height="1" fill="#000"/>
<rect x="533" y="342" width="1" height="1" fill="#000"/>
<rect x="550" y="279" width="1" height="1" fill="#000"/>
<rect x="550" y="342" width="1" height="1" fill="#000"/>
<rect x="566" y="279" width="1" height="1" fill="#000"/>
<rect x="566" y="342" width="1" height="1" fill="#000"/>
<rect x="583" y="279" width="1" height="1" fill="#000"/>
<rect x="583" y="342" width="1" height="1" fill="#000"/>
<rect x="599" y="279" width="1" height="1" fill="#000"/>
<rect x="599" y="342" width="1" height="1" fill="#000"/>
<rect x="616" y="279" width="1" height="1" fill="#000"/>
<rect x="616" y="342" width="1" height="1" fill="#000"/>
<rect x="633" y="279" width="1" height="1" fill="#000"/>
<rect x="633" y="342" width="1" height="1" fill="#000"/>
<rect x="649" y="279" width="1" height="1" fill="#000"/>
<rect x="649" y="342" width="1" height="1" fill="#000"/>
<rect x="666" y="279" width="1" height="1" fill="#000"/>
<rect x="666" y="342" width="1" height="1" fill="#000"/>
<rect x="682" y="279" width="1" height="1" fill="#000"/>
<rect x="682" y="342" width="1" height="1" fill="#000"/>
<rect x="102" y="356" width="598" height="1" fill="#000"/>
<rect x="102" y="420" width="598" height="1" fill="#000"/>
<rect x="102" y="356" width="1" height="65" fill="#000"/>
<rect x="699" y="356" width="1" height="65" fill="#000"/>
<rect x="102" y="419" width="7" height="1" fill="#000"/>
<rect x="693" y="419" width="7" height="1" fill="#000"/>
<rect x="102" y="418" width="7" height="1" fill="#000"/>
<rect x="693" y="418" width="7" height="1" fill="#000"/>
<rect x="102" y="417" width="7" height="1" fill="#000"/>
<rect x="693" y="417" width="7" height="1" fill="#000"/>
<rect x="102" y="416" width="13" height="1" fill="#000"/>
<rect x="687" y="416" width="13" height="1" fill="#000"/>
<rect x="102" y="411" width="7" height="1" fill="#000"/>
<rect x="693" y="411" width="7" height="1" fill="#000"/>
<rect x="102" y="408" width="7" height="1" fill="#000"/>
<rect x="693" y="408" width="7" height="1" fill="#000"/>
<rect x="102" y="405" width="7" height="1" fill="#000"/>
<rect x="693" y="405" width="7" height="1" fill="#000"/>
<rect x="102" y="404" width="7" height="1" fill="#000"/>
<rect x="693" y="404" width="7" height="1" fill="#000"/>
<rect x="102" y="402" width="7" height="1" fill="#000"/>
<rect x="693" y="402" width="7" height="1" fill="#000"/>
<rect x="102" y="401" width="7" height="1" fill="#000"/>
<rect x="693" y="401" width="7" height="1" fill="#000"/>
<rect x="102" y="400" width="7" height="1" fill="#000"/>
<rect x="693" y="400" width="7" height="1" fill="#000"/>
<rect x="102" y="399" width="7" height="1" fill="#000"/>
<rect x="693" y="399" width="7" height="1" fill="#000"/>
<rect x="102" y="398" width="13" height="1" fill="#000"/>
<rect x="687" y="398" width="13" height="1" fill="#000"/>
<rect x="102" y="393" width="7" height="1" fill="#000"/>
<rect x="693" y="393" width="7" height="1" fill="#000"/>
<rect x="102" y="390" width="7" height="1" fill="#000"/>
<rect x="693" y="390" width="7" height="1" fill="#000"/>
<rect x="102" y="388" width="7" height="1" fill="#000"/>
<rect x="693" y="388" width="7" height="1" fill="#000"/>
<rect x="102" y="386" width="7" height="1" fill="#000"/>
<rect x="693" y="386" width="7" height="1" fill="#000"/>
<rect x="102" y="385" width="7" height="1" fill="#000"/>
<rect x="693" y="385" width="7" height="1" fill="#000"/>
<rect x="102" y="384" width="7" height="1" fill="#000"/>
<rect x="693" y="384" width="7" height="1" fill="#000"/>
<rect x="102" y="383" width="7" height="1" fill="#000"/>
<rect x="693" y="383" width="7" height="1" fill="#000"/>
<rect x="102" y="382" width="7" height="1" fill="#000"/>
<rect x="693" y="382" width="7" height="1" fill="#000"/>
<rect x="102" y="381" width="13" height="1" fill="#000"/>
<rect x="687" y="381" width="13" height="1" fill="#000"/>
<rect x="102" y="376" width="7" height="1" fill="#000"/>
<rect x="693" y="376" width="7" height="1" fill="#000"/>
<rect x="102" y="372" width="7" height="1" fill="#000"/>
<rect x="693" y="372" width="7" height="1" fill="#000"/>
<rect x="102" y="370" width="7" height="1" fill="#000"/>
<rect x="693" y="370" width="7" height="1" fill="#000"/>
<rect x="102" y="368" width="7" height="1" fill="#000"/>
<rect x="693" y="368" width="7" height="1" fill="#000"/>
<rect x="102" y="367" width="7" height="1" fill="#000"/>
<rect x="693" y="367" width="7" height="1" fill="#000"/>
<rect x="102" y="366" width="7" height="1" fill="#000"/>
<rect x="693" y="366" width="7" height="1" fill="#000"/>
<rect x="102" y="365" width="7" height="1" fill="#000"/>
<rect x="693" y="365" width="7" height="1" fill="#000"/>
<rect x="102" y="364" width="7" height="1" fill="#000"/>
<rect x="693" y="364" width="7" height="1" fill="#000"/>
<rect x="102" y="363" width="13" height="1" fill="#000"/>
<rect x="687" y="363" width="13" height="1" fill="#000"/>
<rect x="102" y="358" width="7" height="1" fill="#000"/>
<rect x="693" y="358" width="7" height="1" fill="#000"/>
<rect x="202" y="357" width="1" height="1" fill="#000"/>
<rect x="202" y="419" width="1" height="1" fill="#000"/>
<rect x="301" y="357" width="1" height="1" fill="#000"/>
<rect x="301" y="419" width="1" height="1" fill="#000"/>
<rect x="401" y="357" width="1" height="1" fill="#000"/>
<rect x="401" y="419" width="1" height="1" fill="#000"/>
<rect x="500" y="357" width="1" height="1" fill="#000"/>
<rect x="500" y="419" width="1" height="1" fill="#000"/>
<rect x="599" y="357" width="1" height="1" fill="#000"/>
<rect x="599" y="419" width="1" height="1" fill="#000"/>
<rect x="102" y="433" width="598" height="1" fill="#000"/>
<rect x="102" y="498" width="598" height="1" fill="#000"/>
<rect x="102" y="433" width="1" height="66" fill="#000"/>
<rect x="699" y="433" width="1" height="66" fill="#000"/>
<rect x="102" y="492" width="7" height="1" fill="#000"/>
<rect x="693" y="492" width="7" height="1" fill="#000"/>
<rect x="102" y="489" width="7" height="1" fill="#000"/>
<rect x="693" y="489" width="7" height="1" fill="#000"/>
<rect x="102" y="486" width="7" height="1" fill="#000"/>
<rect x="693" y="486" width="7" height="1" fill="#000"/>
<rect x="102" y="484" width="7" height="1" fill="#000"/>
<rect x="693" y="484" width="7" height="1" fill="#000"/>
<rect x="102" y="482" width="7" height="1" fill="#000"/>
<rect x="693" y="482" width="7" height="1" fill="#000"/>
<rect x="102" y="481" width="7" height="1" fill="#000"/>
<rect x="693" y="481" width="7" height="1" fill="#000"/>
<rect x="102" y="479" width="7" height="1" fill="#000"/>
<rect x="693" y="479" width="7" height="1" fill="#000"/>
<rect x="102" y="478" width="7" height="1" fill="#000"/>
<rect x="693" y="478" width="7" height="1" fill="#000"/>
<rect x="102" y="477" width="13" height="1" fill="#000"/>
<rect x="687" y="477" width="13" height="1" fill="#000"/>
<rect x="102" y="471" width="7" height="1" fill="#000"/>
<rect x="693" y="471" width="7" height="1" fill="#000"/>
<rect x="102" y="467" width="7" height="1" fill="#000"/>
<rect x="693" y="467" width="7" height="1" fill="#000"/>
<rect x="102" y="464" width="7" height="1" fill="#000"/>
<rect x="693" y="464" width="7" height="1" fill="#000"/>
<rect x="102" y="462" width="7" height="1" fill="#000"/>
<rect x="693" y="462" width="7" height="1" fill="#000"/>
<rect x="102" y="460" width="7" height="1" fill="#000"/>
<rect x="693" y="460" width="7" height="1" fill="#000"/>
<rect x="102" y="459" width="7" height="1" fill="#000"/>
<rect x="693" y="459" width="7" height="1" fill="#000"/>
<rect x="102" y="458" width="7" height="1" fill="#000"/>
<rect x="693" y="458" width="7" height="1" fill="#000"/>
<rect x="102" y="456" width="7" height="1" fill="#000"/>
<rect x="693" y="456" width="7" height="1" fill="#000"/>
<rect x="102" y="456" width="13" height="1" fill="#000"/>
<rect x="687" y="456" width="13" height="1" fill="#000"/>
<rect x="102" y="449" width="7" height="1" fill="#000"/>
<rect x="693" y="449" width="7" height="1" fill="#000"/>
<rect x="102" y="445" width="7" height="1" fill="#000"/>
<rect x="693" y="445" width="7" height="1" fill="#000"/>
<rect x="102" y="442" width="7" height="1" fill="#000"/>
<rect x="693" y="442" width="7" height="1" fill="#000"/>
<rect x="102" y="440" width="7" height="1" fill="#000"/>
<rect x="693" y="440" width="7" height="1" fill="#000"/>
<rect x="102" y="439" width="7" height="1" fill="#000"/>
<rect x="693" y="439" width="7" height="1" fill="#000"/>
<rect x="102" y="437" width="7" height="1" fill="#000"/>
<rect x="693" y="437" width="7" height="1" fill="#000"/>
<rect x="102" y="436" width="7" height="1" fill="#000"/>
<rect x="693" y="436" width="7" height="1" fill="#000"/>
<rect x="102" y="435" width="7" height="1" fill="#000"/>
<rect x="693" y="435" width="7" height="1" fill="#000"/>
<rect x="119" y="434" width="1" height="1" fill="#000"/>
<rect x="119" y="497" width="1" height="1" fill="#000"/>
<rect x="136" y="434" width="1" height="1" fill="#000"/>
<rect x="136" y="497" width="1" height="1" fill="#000"/>
<rect x="152" y="434" width="1" height="1" fill="#000"/>
<rect x="152" y="497" width="1" height="1" fill="#000"/>
<rect x="169" y="434" width="1" height="1" fill="#000"/>
<rect x="169" y="497" width="1" height="1" fill="#000"/>
<rect x="185" y="434" width="1" height="1" fill="#000"/>
<rect x="185" y="497" width="1" height="1" fill="#000"/>
<rect x="202" y="434" width="1" height="1" fill="#000"/>
<rect x="202" y="497" width="1" height="1" fill="#000"/>
<rect x="218" y="434" width="1" height="1" fill="#000"/>
<rect x="218" y="497" width="1" height="1" fill="#000"/>
<rect x="235" y="434" width="1" height="1" fill="#000"/>
<rect x="235" y="497" width="1" height="1" fill="#000"/>
<rect x="252" y="434" width="1" height="1" fill="#000"/>
<rect x="252" y="497" width="1" height="1" fill="#000"/>
<rect x="268" y="434" width="1" height="1" fill="#000"/>
<rect x="268" y="497" width="1" height="1" fill="#000"/>
<rect x="285" y="434" width="1" height="1" fill="#000"/>
<rect x="285" y="497" width="1" height="1" fill="#000"/>
<rect x="301" y="434" width="1" height="1" fill="#000"/>
<rect x="301" y="497" width="1" height="1" fill="#000"/>
<rect x="318" y="434" width="1" height="1" fill="#000"/>
<rect x="318" y="497" width="1" height="1" fill="#000"/>
<rect x="334" y="434" width="1" height="1" fill="#000"/>
<rect x="334" y="497" width="1" height="1" fill="#000"/>
<rect x="351" y="434" width="1" height="1" fill="#000"/>
<rect x="351" y="497" width="1" height="1" fill="#000"/>
<rect x="367" y="434" width="1" height="1" fill="#000"/>
<rect x="367" y="497" width="1" height="1" fill="#000"/>
<rect x="384" y="434" width="1" height="1" fill="#000"/>
<rect x="384" y="497" width="1" height="1" fill="#000"/>
<rect x="401" y="434" width="1" height="1" fill="#000"/>
<rect x="401" y="497" width="1" height="1" fill="#000"/>
<rect x="417" y="434" width="1" height="1" fill="#000"/>
<rect x="417" y="497" width="1" height="1" fill="#000"/>
<rect x="434" y="434" width="1" height="1" fill="#000"/>
<rect x="434" y="497" width="1" height="1" fill="#000"/>
<rect x="450" y="434" width="1" height="1" fill="#000"/>
<rect x="450" y="497" width="1" height="1" fill="#000"/>
<rect x="467" y="434" width="1" height="1" fill="#000"/>
<rect x="467" y="497" width="1" height="1" fill="#000"/>
<rect x="483" y="434" width="1" height="1" fill="#000"/>
<rect x="483" y="497" width="1" height="1" fill="#000"/>
<rect x="500" y="434" width="1" height="1" fill="#000"/>
<rect x="500" y="497" width="1" height="1" fill="#000"/>
<rect x="517" y="434" width="1" height="1" fill="#000"/>
<rect x="517" y="497" width="1" height="1" fill="#000"/>
<rect x="533" y="434" width="1" height="1" fill="#000"/>
<rect x="533" y="497" width="1" height="1" fill="#000"/>
<rect x="550" y="434" width="1" height="1" fill="#000"/>
<rect x="550" y="497" width="1" height="1" fill="#000"/>
<rect x="566" y="434" width="1" height="1" fill="#000"/>
<rect x="566" y="497" width="1" height="1" fill="#000"/>
<rect x="583" y="434" width="1" height="1" fill="#000"/>
<rect x="583" y="497" width="1" height="1" fill="#000"/>
<rect x="599" y="434" width="1" height="1" fill="#000"/>
<rect x="599" y="497" width="1" height="1" fill="#000"/>
<rect x="616" y="434" width="1" height="1" fill="#000"/>
<rect x="616" y="497" width="1" height="1" fill="#000"/>
<rect x="633" y="434" width="1" height="1" fill="#000"/>
<rect x="633" y="497" width="1" height="1" fill="#000"/>
<rect x="649" y="434" width="1" height="1" fill="#000"/>
<rect x="649" y="497" width="1" height="1" fill="#000"/>
<rect x="666" y="434" width="1" height="1" fill="#000"/>
<rect x="666" y="497" width="1" height="1" fill="#000"/>
<rect x="682" y="434" width="1" height="1" fill="#000"/>
<rect x="682" y="497" width="1" height="1" fill="#000"/>
<rect x="102" y="511" width="598" height="1" fill="#000"/>
<rect x="102" y="576" width="598" height="1" fill="#000"/>
<rect x="102" y="511" width="1" height="66" fill="#000"/>
<rect x="699" y="511" width="1" height="66" fill="#000"/>
<rect x="102" y="567" width="7" height="1" fill="#000"/>
<rect x="693" y="567" width="7" height="1" fill="#000"/>
<rect x="102" y="561" width="7" height="1" fill="#000"/>
<rect x="693" y="561" width="7" height="1" fill="#000"/>
<rect x="102" y="556" width="7" height="1" fill="#000"/>
<rect x="693" y="556" width="7" height="1" fill="#000"/>
<rect x="102" y="552" width="7" height="1" fill="#000"/>
<rect x="693" y="552" width="7" height="1" fill="#000"/>
<rect x="102" y="549" width="7" height="1" fill="#000"/>
<rect x="693" y="549" width="7" height="1" fill="#000"/>
<rect x="102" y="547" width="7" height="1" fill="#000"/>
<rect x="693" y="547" width="7" height="1" fill="#000"/>
<rect x="102" y="545" width="7" height="1" fill="#000"/>
<rect x="693" y="545" width="7" height="1" fill="#000"/>
<rect x="102" y="543" width="7" height="1" fill="#000"/>
<rect x="693" y="543" width="7" height="1" fill="#000"/>
<rect x="102" y="541" width="13" height="1" fill="#000"/>
<rect x="687" y="541" width="13" height="1" fill="#000"/>
<rect x="102" y="530" width="7" height="1" fill="#000"/>
<rect x="693" y="530" width="7" height="1" fill="#000"/>
<rect x="102" y="523" width="7" height="1" fill="#000"/>
<rect x="693" y="523" width="7" height="1" fill="#000"/>
<rect x="102" y="519" width="7" height="1" fill="#000"/>
<rect x="693" y="519" width="7" height="1" fill="#000"/>
<rect x="102" y="515" width="7" height="1" fill="#000"/>
<rect x="693" y="515" width="7" height="1" fill="#000"/>
<rect x="102" y="512" width="7" height="1" fill="#000"/>
<rect x="693" y="512" width="7" height="1" fill="#000"/>
<rect x="119" y="512" width="1" height="1" fill="#000"/>
<rect x="119" y="575" width="1" height="1" fill="#000"/>
<rect x="136" y="512" width="1" height="1" fill="#000"/>
<rect x="136" y="575" width="1" height="1" fill="#000"/>
<rect x="152" y="512" width="1" height="1" fill="#000"/>
<rect x="152" y="575" width="1" height="1" fill="#000"/>
<rect x="169" y="512" width="1" height="1" fill="#000"/>
<rect x="169" y="575" width="1" height="1" fill="#000"/>
<rect x="185" y="512" width="1" height="1" fill="#000"/>
<rect x="185" y="575" width="1" height="1" fill="#000"/>
<rect x="202" y="512" width="1" height="1" fill="#000"/>
<rect x="202" y="575" width="1" height="1" fill="#000"/>
<rect x="218" y="512" width="1" height="1" fill="#000"/>
<rect x="218" y="575" width="1" height="1" fill="#000"/>
<rect x="235" y="512" width="1" height="1" fill="#000"/>
<rect x="235" y="575" width="1" height="1" fill="#000"/>
<rect x="252" y="512" width="1" height="1" fill="#000"/>
<rect x="252" y="575" width="1" height="1" fill="#000"/>
<rect x="268" y="512" width="1" height="1" fill="#000"/>
<rect x="268" y="575" width="1" height="1" fill="#000"/>
<rect x="285" y="512" width="1" height="1" fill="#000"/>
<rect x="285" y="575" width="1" height="1" fill="#000"/>
<rect x="301" y="512" width="1" height="1" fill="#000"/>
<rect x="301" y="575" width="1" height="1" fill="#000"/>
<rect x="318" y="512" width="1" height="1" fill="#000"/>
<rect x="318" y="575" width="1" height="1" fill="#000"/>
<rect x="334" y="512" width="1" height="1" fill="#000"/>
<rect x="334" y="575" width="1" height="1" fill="#000"/>
<rect x="351" y="512" width="1" height="1" fill="#000"/>
<rect x="351" y="575" width="1" height="1" fill="#000"/>
<rect x="367" y="512" width="1" height="1" fill="#000"/>
<rect x="367" y="575" width="1" height="1" fill="#000"/>
<rect x="384" y="512" width="1" height="1" fill="#000"/>
<rect x="384" y="575" width="1" height="1" fill="#000"/>
<rect x="401" y="512" width="1" height="1" fill="#000"/>
<rect x="401" y="575" width="1" height="1" fill="#000"/>
<rect x="417" y="512" width="1" height="1" fill="#000"/>
<rect x="417" y="575" width="1" height="1" fill="#000"/>
<rect x="434" y="512" width="1" height="1" fill="#000"/>
<rect x="434" y="575" width="1" height="1" fill="#000"/>
<rect x="450" y="512" width="1" height="1" fill="#000"/>
<rect x="450" y="575" width="1" height="1" fill="#000"/>
<rect x="467" y="512" width="1" height="1" fill="#000"/>
<rect x="467" y="575" width="1" height="1" fill="#000"/>
<rect x="483" y="512" width="1" height="1" fill="#000"/>
<rect x="483" y="575" width="1" height="1" fill="#000"/>
<rect x="500" y="512" width="1" height="1" fill="#000"/>
<rect x="500" y="575" width="1" height="1" fill="#000"/>
<rect x="517" y="512" width="1" height="1" fill="#000"/>
<rect x="517" y="575" width="1" height="1" fill="#000"/>
<rect x="533" y="512" width="1" height="1" fill="#000"/>
<rect x="533" y="575" width="1" height="1" fill="#000"/>
<rect x="550" y="512" width="1" height="1" fill="#000"/>
<rect x="550" y="575" width="1" height="1" fill="#000"/>
<rect x="566" y="512" width="1" height="1" fill="#000"/>
<rect x="566" y="575" width="1" height="1" fill="#000"/>
<rect x="583" y="512" width="1" height="1" fill="#000"/>
<rect x="583" y="575" width="1" height="1" fill="#000"/>
<rect x="599" y="512" width="1" height="1" fill="#000"/>
<rect x="599" y="575" width="1" height="1" fill="#000"/>
<rect x="616" y="512" width="1" height="1" fill="#000"/>
<rect x="616" y="575" width="1" height="1" fill="#000"/>
<rect x="633" y="512" width="1" height="1" fill="#000"/>
<rect x="633" y="575" width="1" height="1" fill="#000"/>
<rect x="649" y="512" width="1" height="1" fill="#000"/>
<rect x="649" y="575" width="1" height="1" fill="#000"/>
<rect x="666" y="512" width="1" height="1" fill="#000"/>
<rect x="666" y="575" width="1" height="1" fill="#000"/>
<rect x="682" y="512" width="1" height="1" fill="#000"/>
<rect x="682" y="575" width="1" height="1" fill="#000"/>
<rect x="102" y="589" width="598" height="1" fill="#000"/>
<rect x="102" y="654" width="598" height="1" fill="#000"/>
<rect x="102" y="589" width="1" height="66" fill="#000"/>
<rect x="699" y="589" width="1" height="66" fill="#000"/>
<rect x="102" y="653" width="7" height="1" fill="#000"/>
<rect x="693" y="653" width="7" height="1" fill="#000"/>
<rect x="102" y="652" width="7" height="1" fill="#000"/>
<rect x="693" y="652" width="7" height="1" fill="#000"/>
<rect x="102" y="651" width="7" height="1" fill="#000"/>
<rect x="693" y="651" width="7" height="1" fill="#000"/>
<rect x="102" y="650" width="13" height="1" fill="#000"/>
<rect x="687" y="650" width="13" height="1" fill="#000"/>
<rect x="102" y="645" width="7" height="1" fill="#000"/>
<rect x="693" y="645" width="7" height="1" fill="#000"/>
<rect x="102" y="642" width="7" height="1" fill="#000"/>
<rect x="693" y="642" width="7" height="1" fill="#000"/>
<rect x="102" y="639" width="7" height="1" fill="#000"/>
<rect x="693" y="639" width="7" height="1" fill="#000"/>
<rect x="102" y="638" width="7" height="1" fill="#000"/>
<rect x="693" y="638" width="7" height="1" fill="#000"/>
<rect x="102" y="636" width="7" height="1" fill="#000"/>
<rect x="693" y="636" width="7" height="1" fill="#000"/>
<rect x="102" y="635" width="7" height="1" fill="#000"/>
<rect x="693" y="635" width="7" height="1" fill="#000"/>
<rect x="102" y="634" width="7" height="1" fill="#000"/>
<rect x="693" y="634" width="7" height="1" fill="#000"/>
<rect x="102" y="633" width="7" height="1" fill="#000"/>
<rect x="693" y="633" width="7" height="1" fill="#000"/>
<rect x="102" y="632" width="13" height="1" fill="#000"/>
<rect x="687" y="632" width="13" height="1" fill="#000"/>
<rect x="102" y="627" width="7" height="1" fill="#000"/>
<rect x="693" y="627" width="7" height="1" fill="#000"/>
<rect x="102" y="624" width="7" height="1" fill="#000"/>
<rect x="693" y="624" width="7" height="1" fill="#000"/>
<rect x="102" y="621" width="7" height="1" fill="#000"/>
<rect x="693" y="621" width="7" height="1" fill="#000"/>
<rect x="102" y="620" width="7" height="1" fill="#000"/>
<rect x="693" y="620" width="7" height="1" fill="#000"/>
<rect x="102" y="618" width="7" height="1" fill="#000"/>
<rect x="693" y="618" width="7" height="1" fill="#000"/>
<rect x="102" y="617" width="7" height="1" fill="#000"/>
<rect x="693" y="617" width="7" height="1" fill="#000"/>
<rect x="102" y="616" width="7" height="1" fill="#000"/>
<rect x="693" y="616" width="7" height="1" fill="#000"/>
<rect x="102" y="615" width="7" height="1" fill="#000"/>
<rect x="693" y="615" width="7" height="1" fill="#000"/>
<rect x="102" y="614" width="13" height="1" fill="#000"/>
<rect x="687" y="614" width="13" height="1" fill="#000"/>
<rect x="102" y="609" width="7" height="1" fill="#000"/>
<rect x="693" y="609" width="7" height="1" fill="#000"/>
<rect x="102" y="606" width="7" height="1" fill="#000"/>
<rect x="693" y="606" width="7" height="1" fill="#000"/>
<rect x="102" y="603" width="7" height="1" fill="#000"/>
<rect x="693" y="603" width="7" height="1" fill="#000"/>
<rect x="102" y="602" width="7" height="1" fill="#000"/>
<rect x="693" y="602" width="7" height="1" fill="#000"/>
<rect x="102" y="600" width="7" height="1" fill="#000"/>
<rect x="693" y="600" width="7" height="1" fill="#000"/>
<rect x="102" y="599" width="7" height="1" fill="#000"/>
<rect x="693" y="599" width="7" height="1" fill="#000"/>
<rect x="102" y="598" width="7" height="1" fill="#000"/>
<rect x="693" y="598" width="7" height="1" fill="#000"/>
<rect x="102" y="597" width="7" height="1" fill="#000"/>
<rect x="693" y="597" width="7" height="1" fill="#000"/>
<rect x="102" y="596" width="13" height="1" fill="#000"/>
<rect x="687" y="596" width="13" height="1" fill="#000"/>
<rect x="102" y="591" width="7" height="1" fill="#000"/>
<rect x="693" y="591" width="7" height="1" fill="#000"/>
<rect x="119" y="590" width="1" height="1" fill="#000"/>
<rect x="119" y="653" width="1" height="1" fill="#000"/>
<rect x="136" y="590" width="1" height="1" fill="#000"/>
<rect x="136" y="653" width="1" height="1" fill="#000"/>
<rect x="152" y="590" width="1" height="1" fill="#000"/>
<rect x="152" y="653" width="1" height="1" fill="#000"/>
<rect x="169" y="590" width="1" height="1" fill="#000"/>
<rect x="169" y="653" width="1" height="1" fill="#000"/>
<rect x="185" y="590" width="1" height="1" fill="#000"/>
<rect x="185" y="653" width="1" height="1" fill="#000"/>
<rect x="202" y="590" width="1" height="1" fill="#000"/>
<rect x="202" y="653" width="1" height="1" fill="#000"/>
<rect x="218" y="590" width="1" height="1" fill="#000"/>
<rect x="218" y="653" width="1" height="1" fill="#000"/>
<rect x="235" y="590" width="1" height="1" fill="#000"/>
<rect x="235" y="653" width="1" height="1" fill="#000"/>
<rect x="252" y="590" width="1" height="1" fill="#000"/>
<rect x="252" y="653" width="1" height="1" fill="#000"/>
<rect x="268" y="590" width="1" height="1" fill="#000"/>
<rect x="268" y="653" width="1" height="1" fill="#000"/>
<rect x="285" y="590" width="1" height="1" fill="#000"/>
<rect x="285" y="653" width="1" height="1" fill="#000"/>
<rect x="301" y="590" width="1" height="1" fill="#000"/>
<rect x="301" y="653" width="1" height="1" fill="#000"/>
<rect x="318" y="590" width="1" height="1" fill="#000"/>
<rect x="318" y="653" width="1" height="1" fill="#000"/>
<rect x="334" y="590" width="1" height="1" fill="#000"/>
<rect x="334" y="653" width="1" height="1" fill="#000"/>
<rect x="351" y="590" width="1" height="1" fill="#000"/>
<rect x="351" y="653" width="1" height="1" fill="#000"/>
<rect x="367" y="590" width="1" height="1" fill="#000"/>
<rect x="367" y="653" width="1" height="1" fill="#000"/>
<rect x="384" y="590" width="1" height="1" fill="#000"/>
<rect x="384" y="653" width="1" height="1" fill="#000"/>
<rect x="401" y="590" width="1" height="1" fill="#000"/>
<rect x="401" y="653" width="1" height="1" fill="#000"/>
<rect x="417" y="590" width="1" height="1" fill="#000"/>
<rect x="417" y="653" width="1" height="1" fill="#000"/>
<rect x="434" y="590" width="1" height="1" fill="#000"/>
<rect x="434" y="653" width="1" height="1" fill="#000"/>
<rect x="450" y="590" width="1" height="1" fill="#000"/>
<rect x="450" y="653" width="1" height="1" fill="#000"/>
<rect x="467" y="590" width="1" height="1" fill="#000"/>
<rect x="467" y="653" width="1" height="1" fill="#000"/>
<rect x="483" y="590" width="1" height="1" fill="#000"/>
<rect x="483" y="653" width="1" height="1" fill="#000"/>
<rect x="500" y="590" width="1" height="1" fill="#000"/>
<rect x="500" y="653" width="1" height="1" fill="#000"/>
<rect x="517" y="590" width="1" height="1" fill="#000"/>
<rect x="517" y="653" width="1" height="1" fill="#000"/>
<rect x="533" y="590" width="1" height="1" fill="#000"/>
<rect x="533" y="653" width="1" height="1" fill="#000"/>
<rect x="550" y="590" width="1" height="1" fill="#000"/>
<rect x="550" y="653" width="1" height="1" fill="#000"/>
<rect x="566" y="590" width="1" height="1" fill="#000"/>
<rect x="566" y="653" width="1" height="1" fill="#000"/>
<rect x="583" y="590" width="1" height="1" fill="#000"/>
<rect x="583" y="653" width="1" height="1" fill="#000"/>
<rect x="599" y="590" width="1" height="1" fill="#000"/>
<rect x="599" y="653" width="1" height="1" fill="#000"/>
<rect x="616" y="590" width="1" height="1" fill="#000"/>
<rect x="616" y="653" width="1" height="1" fill="#000"/>
<rect x="633" y="590" width="1" height="1" fill="#000"/>
<rect x="633" y="653" width="1" height="1" fill="#000"/>
<rect x="649" y="590" width="1" height="1" fill="#000"/>
<rect x="649" y="653" width="1" height="1" fill="#000"/>
<rect x="666" y="590" width="1" height="1" fill="#000"/>
<rect x="666" y="653" width="1" height="1" fill="#000"/>
<rect x="682" y="590" width="1" height="1" fill="#000"/>
<rect x="682" y="653" width="1" height="1" fill="#000"/>
<rect x="102" y="667" width="598" height="1" fill="#000"/>
<rect x="102" y="732" width="598" height="1" fill="#000"/>
<rect x="102" y="667" width="1" height="66" fill="#000"/>
<rect x="699" y="667" width="1" height="66" fill="#000"/>
<rect x="102" y="731" width="7" height="1" fill="#000"/>
<rect x="693" y="731" width="7" height="1" fill="#000"/>
<rect x="102" y="730" width="7" height="1" fill="#000"/>
<rect x="693" y="730" width="7" height="1" fill="#000"/>
<rect x="102" y="729" width="7" height="1" fill="#000"/>
<rect x="693" y="729" width="7" height="1" fill="#000"/>
<rect x="102" y="728" width="7" height="1" fill="#000"/>
<rect x="693" y="728" width="7" height="1" fill="#000"/>
<rect x="102" y="727" width="13" height="1" fill="#000"/>
<rect x="687" y="727" width="13" height="1" fill="#000"/>
<rect x="102" y="722" width="7" height="1" fill="#000"/>
<rect x="693" y="722" width="7" height="1" fill="#000"/>
<rect x="102" y="719" width="7" height="1" fill="#000"/>
<rect x="693" y="719" width="7" height="1" fill="#000"/>
<rect x="102" y="717" width="7" height="1" fill="#000"/>
<rect x="693" y="717" width="7" height="1" fill="#000"/>
<rect x="102" y="715" width="7" height="1" fill="#000"/>
<rect x="693" y="715" width="7" height="1" fill="#000"/>
<rect x="102" y="714" width="7" height="1" fill="#000"/>
<rect x="693" y="714" width="7" height="1" fill="#000"/>
<rect x="102" y="712" width="7" height="1" fill="#000"/>
<rect x="693" y="712" width="7" height="1" fill="#000"/>
<rect x="102" y="711" width="7" height="1" fill="#000"/>
<rect x="693" y="711" width="7" height="1" fill="#000"/>
<rect x="102" y="710" width="7" height="1" fill="#000"/>
<rect x="693" y="710" width="7" height="1" fill="#000"/>
<rect x="102" y="710" width="13" height="1" fill="#000"/>
<rect x="687" y="710" width="13" height="1" fill="#000"/>
<rect x="102" y="704" width="7" height="1" fill="#000"/>
<rect x="693" y="704" width="7" height="1" fill="#000"/>
<rect x="102" y="701" width="7" height="1" fill="#000"/>
<rect x="693" y="701" width="7" height="1" fill="#000"/>
<rect x="102" y="699" width="7" height="1" fill="#000"/>
<rect x="693" y="699" width="7" height="1" fill="#000"/>
<rect x="102" y="697" width="7" height="1" fill="#000"/>
<rect x="693" y="697" width="7" height="1" fill="#000"/>
<rect x="102" y="696" width="7" height="1" fill="#000"/>
<rect x="693" y="696" width="7" height="1" fill="#000"/>
<rect x="102" y="695" width="7" height="1" fill="#000"/>
<rect x="693" y="695" width="7" height="1" fill="#000"/>
<rect x="102" y="694" width="7" height="1" fill="#000"/>
<rect x="693" y="694" width="7" height="1" fill="#000"/>
<rect x="102" y="693" width="7" height="1" fill="#000"/>
<rect x="693" y="693" width="7" height="1" fill="#000"/>
<rect x="102" y="692" width="13" height="1" fill="#000"/>
<rect x="687" y="692" width="13" height="1" fill="#000"/>
<rect x="102" y="687" width="7" height="1" fill="#000"/>
<rect x="693" y="687" width="7" height="1" fill="#000"/>
<rect x="102" y="683" width="7" height="1" fill="#000"/>
<rect x="693" y="683" width="7" height="1" fill="#000"/>
<rect x="102" y="681" width="7" height="1" fill="#000"/>
<rect x="693" y="681" width="7" height="1" fill="#000"/>
<rect x="102" y="680" width="7" height="1" fill="#000"/>
<rect x="693" y="680" width="7" height="1" fill="#000"/>
<rect x="102" y="678" width="7" height="1" fill="#000"/>
<rect x="693" y="678" width="7" height="1" fill="#000"/>
<rect x="102" y="677" width="7" height="1" fill="#000"/>
<rect x="693" y="677" width="7" height="1" fill="#000"/>
<rect x="102" y="676" width="7" height="1" fill="#000"/>
<rect x="693" y="676" width="7" height="1" fill="#000"/>
<rect x="102" y="675" width="7" height="1" fill="#000"/>
<rect x="693" y="675" width="7" height="1" fill="#000"/>
<rect x="102" y="674" width="13" height="1" fill="#000"/>
<rect x="687" y="674" width="13" height="1" fill="#000"/>
<rect x="102" y="669" width="7" height="1" fill="#000"/>
<rect x="693" y="669" width="7" height="1" fill="#000"/>
<rect x="119" y="668" width="1" height="1" fill="#000"/>
<rect x="119" y="731" width="1" height="1" fill="#000"/>
<rect x="136" y="668" width="1" height="1" fill="#000"/>
<rect x="136" y="731" width="1" height="1" fill="#000"/>
<rect x="152" y="668" width="1" height="1" fill="#000"/>
<rect x="152" y="731" width="1" height="1" fill="#000"/>
<rect x="169" y="668" width="1" height="1" fill="#000"/>
<rect x="169" y="731" width="1" height="1" fill="#000"/>
<rect x="185" y="668" width="1" height="1" fill="#000"/>
<rect x="185" y="731" width="1" height="1" fill="#000"/>
<rect x="202" y="668" width="1" height="1" fill="#000"/>
<rect x="202" y="731" width="1" height="1" fill="#000"/>
<rect x="218" y="668" width="1" height="1" fill="#000"/>
<rect x="218" y="731" width="1" height="1" fill="#000"/>
<rect x="235" y="668" width="1" height="1" fill="#000"/>
<rect x="235" y="731" width="1" height="1" fill="#000"/>
<rect x="252" y="668" width="1" height="1" fill="#000"/>
<rect x="252" y="731" width="1" height="1" fill="#000"/>
<rect x="268" y="668" width="1" height="1" fill="#000"/>
<rect x="268" y="731" width="1" height="1" fill="#000"/>
<rect x="285" y="668" width="1" height="1" fill="#000"/>
<rect x="285" y="731" width="1" height="1" fill="#000"/>
<rect x="301" y="668" width="1" height="1" fill="#000"/>
<rect x="301" y="731" width="1" height="1" fill="#000"/>
<rect x="318" y="668" width="1" height="1" fill="#000"/>
<rect x="318" y="731" width="1" height="1" fill="#000"/>
<rect x="334" y="668" width="1" height="1" fill="#000"/>
<rect x="334" y="731" width="1" height="1" fill="#000"/>
<rect x="351" y="668" width="1" height="1" fill="#000"/>
<rect x="351" y="731" width="1" height="1" fill="#000"/>
<rect x="367" y="668" width="1" height="1" fill="#000"/>
<rect x="367" y="731" width="1" height="1" fill="#000"/>
<rect x="384" y="668" width="1" height="1" fill="#000"/>
<rect x="384" y="731" width="1" height="1" fill="#000"/>
<rect x="401" y="668" width="1" height="1" fill="#000"/>
<rect x="401" y="731" width="1" height="1" fill="#000"/>
<rect x="417" y="668" width="1" height="1" fill="#000"/>
<rect x="417" y="731" width="1" height="1" fill="#000"/>
<rect x="434" y="668" width="1" height="1" fill="#000"/>
<rect x="434" y="731" width="1" height="1" fill="#000"/>
<rect x="450" y="668" width="1" height="1" fill="#000"/>
<rect x="450" y="731" width="1" height="1" fill="#000"/>
<rect x="467" y="668" width="1" height="1" fill="#000"/>
<rect x="467" y="731" width="1" height="1" fill="#000"/>
<rect x="483" y="668" width="1" height="1" fill="#000"/>
<rect x="483" y="731" width="1" height="1" fill="#000"/>
<rect x="500" y="668" width="1" height="1" fill="#000"/>
<rect x="500" y="731" width="1" height="1" fill="#000"/>
<rect x="517" y="668" width="1" height="1" fill="#000"/>
<rect x="517" y="731" width="1" height="1" fill="#000"/>
<rect x="533" y="668" width="1" height="1" fill="#000"/>
<rect x="533" y="731" width="1" height="1" fill="#000"/>
<rect x="550" y="668" width="1" height="1" fill="#000"/>
<rect x="550" y="731" width="1" height="1" fill="#000"/>
<rect x="566" y="668" width="1" height="1" fill="#000"/>
<rect x="566" y="731" width="1" height="1" fill="#000"/>
<rect x="583" y="668" width="1" height="1" fill="#000"/>
<rect x="583" y="731" width="1" height="1" fill="#000"/>
<rect x="599" y="668" width="1" height="1" fill="#000"/>
<rect x="599" y="731" width="1" height="1" fill="#000"/>
<rect x="616" y="668" width="1" height="1" fill="#000"/>
<rect x="616" y="731" width="1" height="1" fill="#000"/>
<rect x="633" y="668" width="1" height="1" fill="#000"/>
<rect x="633" y="731" width="1" height="1" fill="#000"/>
<rect x="649" y="668" width="1" height="1" fill="#000"/>
<rect x="649" y="731" width="1" height="1" fill="#000"/>
<rect x="666" y="668" width="1" height="1" fill="#000"/>
<rect x="666" y="731" width="1" height="1" fill="#000"/>
<rect x="682" y="668" width="1" height="1" fill="#000"/>
<rect x="682" y="731" width="1" height="1" fill="#000"/>
<rect x="102" y="343" width="1" height="13" fill="#000"/>
<rect x="699" y="343" width="1" height="13" fill="#000"/>
<rect x="102" y="348" width="597" height="4" fill="#ff0000"/>
<rect x="100" y="346" width="5" height="8" fill="#ff0000"/>
<rect x="102" y="420" width="1" height="13" fill="#000"/>
<rect x="699" y="420" width="1" height="13" fill="#000"/>
<rect x="102" y="426" width="320" height="4" fill="#ff0000"/>
<rect x="422" y="426" width="277" height="4" fill="#ffff00"/>
<rect x="415" y="424" width="5" height="8" fill="#ff0000"/>
<rect x="100" y="424" width="5" height="8" fill="#ff0000"/>
<rect x="102" y="498" width="1" height="13" fill="#000"/>
<rect x="699" y="498" width="1" height="13" fill="#000"/>
<rect x="102" y="504" width="320" height="4" fill="#ff0000"/>
<rect x="422" y="504" width="277" height="4" fill="#ffff00"/>
<rect x="415" y="502" width="5" height="8" fill="#ff0000"/>
<rect x="100" y="502" width="5" height="8" fill="#ff0000"/>
<rect x="102" y="576" width="1" height="13" fill="#000"/>
<rect x="699" y="576" width="1" height="13" fill="#000"/>
<rect x="102" y="582" width="597" height="4" fill="#ff0000"/>
<rect x="100" y="580" width="5" height="8" fill="#ff0000"/>
<rect x="102" y="654" width="1" height="13" fill="#000"/>
<rect x="699" y="654" width="1" height="13" fill="#000"/>
<rect x="102" y="659" width="597" height="4" fill="#ff0000"/>
<rect x="100" y="657" width="5" height="8" fill="#ff0000"/>
<rect x="290" y="149" width="1" height="1" fill="#0000ff"/>
<rect x="291" y="149" width="1" height="1" fill="#0000ff"/>
<rect x="292" y="149" width="1" height="1" fill="#0000ff"/>
<rect x="293" y="149" width="1" height="1" fill="#0000ff"/>
<rect x="294" y="149" width="1" height="1" fill="#0000ff"/>
<rect x="295" y="149" width="1" height="1" fill="#0000ff"/>
<rect x="296" y="149" width="1" height="1" fill="#0000ff"/>
<rect x="297" y="149" width="1" height="1" fill="#0000ff"/>
<rect x="298" y="149" width="1" height="1" fill="#0000ff"/>
<rect x="299" y="149" width="1" height="1" fill="#0000ff"/>
<rect x="300" y="149" width="1" height="1" fill="#0000ff"/>
<rect x="290" y="150" width="1" height="1" fill="#0000ff"/>
<rect x="291" y="150" width="1" height="1" fill="#0000ff"/>
<rect x="292" y="150" width="1" height="1" fill="#5a00b4"/>
<rect x="293" y="150" width="1" height="1" fill="#0000ff"/>
<rect x="294" y="150" width="1" height="1" fill="#0000ff"/>
<rect x="295" y="150" width="1" height="1" fill="#5a00b4"/>
<rect x="296" y="150" width="1" height="1" fill="#0090ff"/>
<rect x="297" y="150" width="1" height="1" fill="#5a00b4"/>
<rect x="298" y="150" width="1" height="1" fill="#0000ff"/>
<rect x="299" y="150" width="1" height="1" fill="#0090ff"/>
<rect x="300" y="150" width="1" height="1" fill="#0000ff"/>
<rect x="290" y="151" width="1" height="1" fill="#780050"/>
<rect x="291" y="151" width="1" height="1" fill="#0000ff"/>
<rect x="292" y="151" width="1" height="1" fill="#0000ff"/>
<rect x="293" y="151" width="1" height="1" fill="#0000ff"/>
<rect x="294" y="151" width="1" height="1" fill="#0000ff"/>
<rect x="295" y="151" width="1" height="1" fill="#5a00b4"/>
<rect x="296" y="151" width="1" height="1" fill="#0000ff"/>
<rect x="297" y="151" width="1" height="1" fill="#5a00b4"/>
<rect x="298" y="151" width="1" height="1" fill="#5a00b4"/>
<rect x="299" y="151" width="1" height="1" fill="#0000ff"/>
<rect x="300" y="151" width="1" height="1" fill="#5a00b4"/>
<rect x="290" y="152" width="1" height="1" fill="#0000ff"/>
<rect x="291" y="152" width="1" height="1" fill="#0000ff"/>
<rect x="292" y="152" width="1" height="1" fill="#000000"/>
<rect x="293" y="152" width="1" height="1" fill="#5a00b4"/>
<rect x="294" y="152" width="1" height="1" fill="#0000ff"/>
<rect x="295" y="152" width="1" height="1" fill="#0000ff"/>
<rect x="296" y="152" width="1" height="1" fill="#5a00b4"/>
<rect x="297" y="152" width="1" height="1" fill="#5a00b4"/>
<rect x="298" y="152" width="1" height="1" fill="#0000ff"/>
<rect x="299" y="152" width="1" height="1" fill="#5a00b4"/>
<rect x="300" y="152" width="1" height="1" fill="#5a00b4"/>
<rect x="290" y="153" width="1" height="1" fill="#0000ff"/>
<rect x="291" y="153" width="1" height="1" fill="#5a00b4"/>
<rect x="292" y="153" width="1" height="1" fill="#5a00b4"/>
<rect x="293" y="153" width="1" height="1" fill="#780050"/>
<rect x="294" y="153" width="1" height="1" fill="#5a00b4"/>
<rect x="295" y="153" width="1" height="1" fill="#0000ff"/>
<rect x="296" y="153" width="1" height="1" fill="#0090ff"/>
<rect x="297" y="153" width="1" height="1" fill="#000000"/>
<rect x="298" y="153" width="1" height="1" fill="#0000ff"/>
<rect x="299" y="153" width="1" height="1" fill="#5a00b4"/>
<rect x="300" y="153" width="1" height="1" fill="#0000ff"/>
<rect x="290" y="154" width="1" height="1" fill="#5a00b4"/>
<rect x="291" y="154" width="1" height="1" fill="#0000ff"/>
<rect x="292" y="154" width="1" height="1" fill="#5a00b4"/>
<rect x="293" y="154" width="1" height="1" fill="#5a00b4"/>
<rect x="294" y="154" width="1" height="1" fill="#5a00b4"/>
<rect x="295" y="154" width="1" height="1" fill="#780050"/>
<rect x="296" y="154" width="1" height="1" fill="#0000ff"/>
<rect x="297" y="154" width="1" height="1" fill="#5a00b4"/>
<rect x="298" y="154" width="1" height="1" fill="#5a00b4"/>
<rect x="299" y="154" width="1" height="1" fill="#5a00b4"/>
<rect x="300" y="154" width="1" height="1" fill="#5a00b4"/>
<rect x="290" y="155" width="1" height="1" fill="#5a00b4"/>
<rect x="291" y="155" width="1" height="1" fill="#0090ff"/>
<rect x="292" y="155" width="1" height="1" fill="#5a00b4"/>
<rect x="293" y="155" width="1" height="1" fill="#5a00b4"/>
<rect x="294" y="155" width="1" height="1" fill="#000000"/>
<rect x="295" y="155" width="1" height="1" fill="#5a00b4"/>
<rect x="296" y="155" width="1" height="1" fill="#5a00b4"/>
<rect x="297" y="155" width="1" height="1" fill="#0090ff"/>
<rect x="298" y="155" width="1" height="1" fill="#5a00b4"/>
<rect x="299" y="155" width="1" height="1" fill="#0000ff"/>
<rect x="300" y="155" width="1" height="1" fill="#0000ff"/>
<rect x="290" y="156" width="1" height="1" fill="#5a00b4"/>
<rect x="291" y="156" width="1" height="1" fill="#0000ff"/>
<rect x="292" y="156" width="1" height="1" fill="#5a00b4"/>
<rect x="293" y="156" width="1" height="1" fill="#000000"/>
<rect x="294" y="156" width="1" height="1" fill="#000000"/>
<rect x="295" y="156" width="1" height="1" fill="#000000"/>
<rect x="296" y="156" width="1" height="1" fill="#5a00b4"/>
<rect x="297" y="156" width="1" height="1" fill="#000000"/>
<rect x="298" y="156" width="1" height="1" fill="#0000ff"/>
<rect x="299" y="156" width="1" height="1" fill="#0000ff"/>
<rect x="300" y="156" width="1" height="1" fill="#780050"/>
<rect x="290" y="157" width="1" height="1" fill="#0000ff"/>
<rect x="291" y="157" width="1" height="1" fill="#0000ff"/>
<rect x="292" y="157" width="1" height="1" fill="#5a00b4"/>
<rect x="293" y="157" width="1" height="1" fill="#780050"/>
<rect x="294" y="157" width="1" height="1" fill="#5a00b4"/>
<rect x="295" y="157" width="1" height="1" fill="#780050"/>
<rect x="296" y="157" width="1" height="1" fill="#0000ff"/>
<rect x="297" y="157" width="1" height="1" fill="#0000ff"/>
<rect x="298" y="157" width="1" height="1" fill="#0000ff"/>
<rect x="299" y="157" width="1" height="1" fill="#780050"/>
<rect x="300" y="157" width="1" height="1" fill="#0090ff"/>
<rect x="290" y="158" width="1" height="1" fill="#0000ff"/>
<rect x="291" y="158" width="1" height="1" fill="#0000ff"/>
<rect x="292" y="158" width="1" height="1" fill="#000000"/>
<rect x="293" y="158" width="1" height="1" fill="#000000"/>
<rect x="294" y="158" width="1" height="1" fill="#5a00b4"/>
<rect x="295" y="158" width="1" height="1" fill="#5a00b4"/>
<rect x="296" y="158" width="1" height="1" fill="#0000ff"/>
<rect x="297" y="158" width="1" height="1" fill="#000000"/>
<rect x="298" y="158" width="1" height="1" fill="#0000ff"/>
<rect x="299" y="158" width="1" height="1" fill="#0000ff"/>
<rect x="300" y="158" width="1" height="1" fill="#5a00b4"/>
<rect x="290" y="159" width="1" height="1" fill="#0090ff"/>
<rect x="291" y="159" width="1" height="1" fill="#5a00b4"/>
<rect x="292" y="159" width="1" height="1" fill="#5a00b4"/>
<rect x="293" y="159" width="1" height="1" fill="#5a00b4"/>
<rect x="294" y="159" width="1" height="1" fill="#5a00b4"/>
<rect x="295" y="159" width="1" height="1" fill="#000000"/>
<rect x="296" y="159" width="1" height="1" fill="#780050"/>
<rect x="297" y="159" width="1" height="1" fill="#5a00b4"/>
<rect x="298" y="159" width="1" height="1" fill="#780050"/>
<rect x="299" y="159" width="1" height="1" fill="#5a00b4"/>
<rect x="300" y="159" width="1" height="1" fill="#0000ff"/>
<rect x="290" y="160" width="1" height="1" fill="#0000ff"/>
<rect x="291" y="160" width="1" height="1" fill="#0000ff"/>
<rect x="292" y="160" width="1" height="1" fill="#5a00b4"/>
<rect x="293" y="160" width="1" height="1" fill="#000000"/>
<rect x="294" y="160" width="1" height="1" fill="#000000"/>
<rect x="295" y="160" width="1" height="1" fill="#000000"/>
<rect x="296" y="160" width="1" height="1" fill="#000000"/>
<rect x="297" y="160" width="1" height="1" fill="#0000ff"/>
<rect x="298" y="160" width="1" height="1" fill="#0000ff"/>
<rect x="299" y="160" width="1" height="1" fill="#0000ff"/>
<rect x="300" y="160" width="1" height="1" fill="#0000ff"/>
<rect x="290" y="161" width="1" height="1" fill="#0000ff"/>
<rect x="291" y="161" width="1" height="1" fill="#0000ff"/>
<rect x="292" y="161" width="1" height="1" fill="#0000ff"/>
<rect x="293" y="161" width="1" height="1" fill="#780050"/>
<rect x="294" y="161" width="1" height="1" fill="#5a00b4"/>
<rect x="295" y="161" width="1" height="1" fill="#0000ff"/>
<rect x="296" y="161" width="1" height="1" fill="#0000ff"/>
<rect x="297" y="161" width="1" height="1" fill="#0000ff"/>
<rect x="298" y="161" width="1" height="1" fill="#0000ff"/>
<rect x="299" y="161" width="1" height="1" fill="#0000ff"/>
<rect x="300" y="161" width="1" height="1" fill="#5a00b4"/>
<rect x="290" y="162" width="1" height="1" fill="#0090ff"/>
<rect x="291" y="162" width="1" height="1" fill="#5a00b4"/>
<rect x="292" y="162" width="1" height="1" fill="#5a00b4"/>
<rect x="293" y="162" width="1" height="1" fill="#0000ff"/>
<rect x="294" y="162" width="1" height="1" fill="#0000ff"/>
<rect x="295" y="162" width="1" height="1" fill="#0000ff"/>
<rect x="296" y="162" width="1" height="1" fill="#0000ff"/>
<rect x="297" y="162" width="1" height="1" fill="#5a00b4"/>
<rect x="298" y="162" width="1" height="1" fill="#0000ff"/>
<rect x="299" y="162" width="1" height="1" fill="#0000ff"/>
<rect x="300" y="162" width="1" height="1" fill="#0090ff"/>
<rect x="290" y="163" width="1" height="1" fill="#5a00b4"/>
<rect x="291" y="163" width="1" height="1" fill="#0000ff"/>
<rect x="292" y="163" width="1" height="1" fill="#5a00b4"/>
<rect x="293" y="163" width="1" height="1" fill="#0000ff"/>
<rect x="294" y="163" width="1" height="1" fill="#5a00b4"/>
<rect x="295" y="163" width="1" height="1" fill="#0090ff"/>
<rect x="296" y="163" width="1" height="1" fill="#780050"/>
<rect x="297" y="163" width="1" height="1" fill="#5a00b4"/>
<rect x="298" y="163" width="1" height="1" fill="#0000ff"/>
<rect x="299" y="163" width="1" height="1" fill="#0000ff"/>
<rect x="300" y="163" width="1" height="1" fill="#0000ff"/>
<rect x="290" y="164" width="1" height="1" fill="#5a00b4"/>
<rect x="291" y="164" width="1" height="1" fill="#5a00b4"/>
<rect x="292" y="164" width="1" height="1" fill="#5a00b4"/>
<rect x="293" y="164" width="1" height="1" fill="#0000ff"/>
<rect x="294" y="164" width="1" height="1" fill="#0000ff"/>
<rect x="295" y="164" width="1" height="1" fill="#5a00b4"/>
<rect x="296" y="164" width="1" height="1" fill="#0090ff"/>
<rect x="297" y="164" width="1" height="1" fill="#780050"/>
<rect x="298" y="164" width="1" height="1" fill="#5a00b4"/>
<rect x="299" y="164" width="1" height="1" fill="#5a00b4"/>
<rect x="300" y="164" width="1" height="1" fill="#5a00b4"/>
<rect x="290" y="165" width="1" height="1" fill="#0000ff"/>
<rect x="291" y="165" width="1" height="1" fill="#5a00b4"/>
<rect x="292" y="165" width="1" height="1" fill="#0000ff"/>
<rect x="293" y="165" width="1" height="1" fill="#0000ff"/>
<rect x="294" y="165" width="1" height="1" fill="#0000ff"/>
<rect x="295" y="165" width="1" height="1" fill="#0000ff"/>
<rect x="296" y="165" width="1" height="1" fill="#0000ff"/>
<rect x="297" y="165" width="1" height="1" fill="#5a00b4"/>
<rect x="298" y="165" width="1" height="1" fill="#0090ff"/>
<rect x="299" y="165" width="1" height="1" fill="#0000ff"/>
<rect x="300" y="165" width="1" height="1" fill="#0090ff"/>
<rect x="290" y="166" width="11" height="2" fill="#00b4ff"/>
<rect x="290" y="168" width="11" height="2" fill="#00ffff"/>
<rect x="290" y="170" width="11" height="4" fill="#00ff40"/>
<rect x="290" y="174" width="11" height="2" fill="#c0ff00"/>
<rect x="290" y="176" width="11" height="5" fill="#ffe600"/>
<rect x="290" y="181" width="11" height="2" fill="#ffbe00"/>
<rect x="290" y="183" width="11" height="4" fill="#ffa000"/>
<rect x="290" y="187" width="11" height="4" fill="#ff6e00"/>
<rect x="290" y="191" width="11" height="1" fill="#ff3c00"/>
<rect x="290" y="192" width="11" height="6" fill="#ff0000"/>
<rect x="290" y="198" width="11" height="6" fill="#dc0000"/>
<rect x="290" y="204" width="11" height="3" fill="#ff0000"/>
<rect x="289" y="207" width="12" height="6" fill="#000"/>
<rect x="285" y="211" width="20" height="1" fill="#000"/>
<rect x="290" y="513" width="1" height="1" fill="#0020ff"/>
<rect x="291" y="513" width="1" height="1" fill="#0080ff"/>
<rect x="292" y="513" width="1" height="1" fill="#0020ff"/>
<rect x="293" y="513" width="1" height="1" fill="#00b0ff"/>
<rect x="294" y="513" width="1" height="1" fill="#0080ff"/>
<rect x="295" y="513" width="1" height="1" fill="#0020ff"/>
<rect x="296" y="513" width="1" height="1" fill="#0080ff"/>
<rect x="297" y="513" width="1" height="1" fill="#00b0ff"/>
<rect x="298" y="513" width="1" height="1" fill="#0020ff"/>
<rect x="299" y="513" width="1" height="1" fill="#0080ff"/>
<rect x="300" y="513" width="1" height="1" fill="#0020ff"/>
<rect x="290" y="514" width="1" height="1" fill="#0020ff"/>
<rect x="291" y="514" width="1" height="1" fill="#0080ff"/>
<rect x="292" y="514" width="1" height="1" fill="#0050ff"/>
<rect x="293" y="514" width="1" height="1" fill="#00b0ff"/>
<rect x="294" y="514" width="1" height="1" fill="#0080ff"/>
<rect x="295" y="514" width="1" height="1" fill="#0020ff"/>
<rect x="296" y="514" width="1" height="1" fill="#0080ff"/>
<rect x="297" y="514" width="1" height="1" fill="#00b0ff"/>
<rect x="298" y="514" width="1" height="1" fill="#0020ff"/>
<rect x="299" y="514" width="1" height="1" fill="#0080ff"/>
<rect x="300" y="514" width="1" height="1" fill="#0020ff"/>
<rect x="290" y="515" width="1" height="1" fill="#0020ff"/>
<rect x="291" y="515" width="1" height="1" fill="#0080ff"/>
<rect x="292" y="515" width="1" height="1" fill="#0020ff"/>
<rect x="293" y="515" width="1" height="1" fill="#00b0ff"/>
<rect x="294" y="515" width="1" height="1" fill="#0080ff"/>
<rect x="295" y="515" width="1" height="1" fill="#0020ff"/>
<rect x="296" y="515" width="1" height="1" fill="#0080ff"/>
<rect x="297" y="515" width="1" height="1" fill="#00b0ff"/>
<rect x="298" y="515" width="1" height="1" fill="#0020ff"/>
<rect x="299" y="515" width="1" height="1" fill="#0080ff"/>
<rect x="300" y="515" width="1" height="1" fill="#0020ff"/>
<rect x="290" y="516" width="1" height="1" fill="#0020ff"/>
<rect x="291" y="516" width="1" height="1" fill="#0080ff"/>
<rect x="292" y="516" width="1" height="1" fill="#0020ff"/>
<rect x="293" y="516" width="1" height="1" fill="#00b0ff"/>
<rect x="294" y="516" width="1" height="1" fill="#0080ff"/>
<rect x="295" y="516" width="1" height="1" fill="#0020ff"/>
<rect x="296" y="516" width="1" height="1" fill="#0080ff"/>
<rect x="297" y="516" width="1" height="1" fill="#0050ff"/>
<rect x="298" y="516" width="1" height="1" fill="#0020ff"/>
<rect x="299" y="516" width="1" height="1" fill="#0080ff"/>
<rect x="300" y="516" width="1" height="1" fill="#0020ff"/>
<rect x="290" y="517" width="1" height="1" fill="#0080ff"/>
<rect x="291" y="517" width="1" height="1" fill="#00b0ff"/>
<rect x="292" y="517" width="1" height="1" fill="#0080ff"/>
<rect x="293" y="517" width="1" height="1" fill="#0020ff"/>
<rect x="294" y="517" width="1" height="1" fill="#00b0ff"/>
<rect x="295" y="517" width="1" height="1" fill="#0080ff"/>
<rect x="296" y="517" width="1" height="1" fill="#00b0ff"/>
<rect x="297" y="517" width="1" height="1" fill="#0020ff"/>
<rect x="298" y="517" width="1" height="1" fill="#0080ff"/>
<rect x="299" y="517" width="1" height="1" fill="#00b0ff"/>
<rect x="300" y="517" width="1" height="1" fill="#0080ff"/>
<rect x="290" y="518" width="1" height="1" fill="#0080ff"/>
<rect x="291" y="518" width="1" height="1" fill="#00b0ff"/>
<rect x="292" y="518" width="1" height="1" fill="#0080ff"/>
<rect x="293" y="518" width="1" height="1" fill="#0020ff"/>
<rect x="294" y="518" width="1" height="1" fill="#00b0ff"/>
<rect x="295" y="518" width="1" height="1" fill="#0080ff"/>
<rect x="296" y="518" width="1" height="1" fill="#00b0ff"/>
<rect x="297" y="518" width="1" height="1" fill="#0020ff"/>
<rect x="298" y="518" width="1" height="1" fill="#0080ff"/>
<rect x="299" y="518" width="1" height="1" fill="#00b0ff"/>
<rect x="300" y="518" width="1" height="1" fill="#0080ff"/>
<rect x="290" y="519" width="1" height="1" fill="#0050ff"/>
<rect x="291" y="519" width="1" height="1" fill="#00b0ff"/>
<rect x="292" y="519" width="1" height="1" fill="#0080ff"/>
<rect x="293" y="519" width="1" height="1" fill="#0050ff"/>
<rect x="294" y="519" width="1" height="1" fill="#00b0ff"/>
<rect x="295" y="519" width="1" height="1" fill="#0080ff"/>
<rect x="296" y="519" width="1" height="1" fill="#00b0ff"/>
<rect x="297" y="519" width="1" height="1" fill="#0020ff"/>
<rect x="298" y="519" width="1" height="1" fill="#0080ff"/>
<rect x="299" y="519" width="1" height="1" fill="#00b0ff"/>
<rect x="300" y="519" width="1" height="1" fill="#0080ff"/>
<rect x="290" y="520" width="1" height="1" fill="#0080ff"/>
<rect x="291" y="520" width="1" height="1" fill="#00b0ff"/>
<rect x="292" y="520" width="1" height="1" fill="#0050ff"/>
<rect x="293" y="520" width="1" height="1" fill="#0020ff"/>
<rect x="294" y="520" width="1" height="1" fill="#00b0ff"/>
<rect x="295" y="520" width="1" height="1" fill="#0080ff"/>
<rect x="296" y="520" width="1" height="1" fill="#00b0ff"/>
<rect x="297" y="520" width="1" height="1" fill="#0020ff"/>
<rect x="298" y="520" width="1" height="1" fill="#0080ff"/>
<rect x="299" y="520" width="1" height="1" fill="#00b0ff"/>
<rect x="300" y="520" width="1" height="1" fill="#0080ff"/>
<rect x="290" y="521" width="1" height="1" fill="#00b0ff"/>
<rect x="291" y="521" width="1" height="1" fill="#0020ff"/>
<rect x="292" y="521" width="1" height="1" fill="#00b0ff"/>
<rect x="293" y="521" width="1" height="1" fill="#0080ff"/>
<rect x="294" y="521" width="1" height="1" fill="#0020ff"/>
<rect x="295" y="521" width="1" height="1" fill="#00b0ff"/>
<rect x="296" y="521" width="1" height="1" fill="#0020ff"/>
<rect x="297" y="521" width="1" height="1" fill="#0080ff"/>
<rect x="298" y="521" width="1" height="1" fill="#00b0ff"/>
<rect x="299" y="521" width="1" height="1" fill="#0020ff"/>
<rect x="300" y="521" width="1" height="1" fill="#00b0ff"/>
<rect x="290" y="522" width="1" height="1" fill="#00b0ff"/>
<rect x="291" y="522" width="1" height="1" fill="#0020ff"/>
<rect x="292" y="522" width="1" height="1" fill="#00b0ff"/>
<rect x="293" y="522" width="1" height="1" fill="#0080ff"/>
<rect x="294" y="522" width="1" height="1" fill="#0020ff"/>
<rect x="295" y="522" width="1" height="1" fill="#00b0ff"/>
<rect x="296" y="522" width="1" height="1" fill="#0020ff"/>
<rect x="297" y="522" width="1" height="1" fill="#0080ff"/>
<rect x="298" y="522" width="1" height="1" fill="#0050ff"/>
<rect x="299" y="522" width="1" height="1" fill="#0020ff"/>
<rect x="300" y="522" width="1" height="1" fill="#0050ff"/>
<rect x="290" y="523" width="1" height="1" fill="#00b0ff"/>
<rect x="291" y="523" width="1" height="1" fill="#0020ff"/>
<rect x="292" y="523" width="1" height="1" fill="#00b0ff"/>
<rect x="293" y="523" width="1" height="1" fill="#0080ff"/>
<rect x="294" y="523" width="1" height="1" fill="#0020ff"/>
<rect x="295" y="523" width="1" height="1" fill="#00b0ff"/>
<rect x="296" y="523" width="1" height="1" fill="#0020ff"/>
<rect x="297" y="523" width="1" height="1" fill="#0080ff"/>
<rect x="298" y="523" width="1" height="1" fill="#00b0ff"/>
<rect x="299" y="523" width="1" height="1" fill="#0020ff"/>
<rect x="300" y="523" width="1" height="1" fill="#00b0ff"/>
<rect x="290" y="524" width="1" height="1" fill="#00b0ff"/>
<rect x="291" y="524" width="1" height="1" fill="#0020ff"/>
<rect x="292" y="524" width="1" height="1" fill="#00b0ff"/>
<rect x="293" y="524" width="1" height="1" fill="#0080ff"/>
<rect x="294" y="524" width="1" height="1" fill="#0020ff"/>
<rect x="295" y="524" width="1" height="1" fill="#00b0ff"/>
<rect x="296" y="524" width="1" height="1" fill="#0020ff"/>
<rect x="297" y="524" width="1" height="1" fill="#0080ff"/>
<rect x="298" y="524" width="1" height="1" fill="#00b0ff"/>
<rect x="299" y="524" width="1" height="1" fill="#0020ff"/>
<rect x="300" y="524" width="1" height="1" fill="#00b0ff"/>
<rect x="290" y="525" width="1" height="1" fill="#0050ff"/>
<rect x="291" y="525" width="1" height="1" fill="#0080ff"/>
<rect x="292" y="525" width="1" height="1" fill="#0020ff"/>
<rect x="293" y="525" width="1" height="1" fill="#0050ff"/>
<rect x="294" y="525" width="1" height="1" fill="#0080ff"/>
<rect x="295" y="525" width="1" height="1" fill="#0020ff"/>
<rect x="296" y="525" width="1" height="1" fill="#0080ff"/>
<rect x="297" y="525" width="1" height="1" fill="#0050ff"/>
<rect x="298" y="525" width="1" height="1" fill="#0020ff"/>
<rect x="299" y="525" width="1" height="1" fill="#0080ff"/>
<rect x="300" y="525" width="1" height="1" fill="#0020ff"/>
<rect x="290" y="526" width="1" height="1" fill="#0050ff"/>
<rect x="291" y="526" width="1" height="1" fill="#0080ff"/>
<rect x="292" y="526" width="1" height="1" fill="#0050ff"/>
<rect x="293" y="526" width="1" height="1" fill="#00b0ff"/>
<rect x="294" y="526" width="1" height="1" fill="#0080ff"/>
<rect x="295" y="526" width="1" height="1" fill="#0020ff"/>
<rect x="296" y="526" width="1" height="1" fill="#0080ff"/>
<rect x="297" y="526" width="1" height="1" fill="#00b0ff"/>
<rect x="298" y="526" width="1" height="1" fill="#0020ff"/>
<rect x="299" y="526" width="1" height="1" fill="#0080ff"/>
<rect x="300" y="526" width="1" height="1" fill="#0020ff"/>
<rect x="290" y="527" width="1" height="1" fill="#0020ff"/>
<rect x="291" y="527" width="1" height="1" fill="#0080ff"/>
<rect x="292" y="527" width="1" height="1" fill="#0020ff"/>
<rect x="293" y="527" width="1" height="1" fill="#0050ff"/>
<rect x="294" y="527" width="1" height="1" fill="#0050ff"/>
<rect x="295" y="527" width="1" height="1" fill="#0020ff"/>
<rect x="296" y="527" width="1" height="1" fill="#0080ff"/>
<rect x="297" y="527" width="1" height="1" fill="#0050ff"/>
<rect x="298" y="527" width="1" height="1" fill="#0020ff"/>
<rect x="299" y="527" width="1" height="1" fill="#0080ff"/>
<rect x="300" y="527" width="1" height="1" fill="#0020ff"/>
<rect x="290" y="528" width="1" height="1" fill="#0050ff"/>
<rect x="291" y="528" width="1" height="1" fill="#0080ff"/>
<rect x="292" y="528" width="1" height="1" fill="#0050ff"/>
<rect x="293" y="528" width="1" height="1" fill="#00b0ff"/>
<rect x="294" y="528" width="1" height="1" fill="#0080ff"/>
<rect x="295" y="528" width="1" height="1" fill="#0020ff"/>
<rect x="296" y="528" width="1" height="1" fill="#0080ff"/>
<rect x="297" y="528" width="1" height="1" fill="#00b0ff"/>
<rect x="298" y="528" width="1" height="1" fill="#0020ff"/>
<rect x="299" y="528" width="1" height="1" fill="#0080ff"/>
<rect x="300" y="528" width="1" height="1" fill="#0020ff"/>
<rect x="290" y="529" width="1" height="1" fill="#0080ff"/>
<rect x="291" y="529" width="1" height="1" fill="#0050ff"/>
<rect x="292" y="529" width="1" height="1" fill="#0080ff"/>
<rect x="293" y="529" width="1" height="1" fill="#0050ff"/>
<rect x="294" y="529" width="1" height="1" fill="#00b0ff"/>
<rect x="295" y="529" width="1" height="1" fill="#0080ff"/>
<rect x="296" y="529" width="1" height="1" fill="#00b0ff"/>
<rect x="297" y="529" width="1" height="1" fill="#0020ff"/>
<rect x="298" y="529" width="1" height="1" fill="#0080ff"/>
<rect x="299" y="529" width="1" height="1" fill="#00b0ff"/>
<rect x="300" y="529" width="1" height="1" fill="#0080ff"/>
<rect x="290" y="530" width="11" height="4" fill="#00e6f0"/>
<rect x="290" y="534" width="11" height="5" fill="#00e600"/>
<rect x="290" y="539" width="11" height="4" fill="#ffe600"/>
<rect x="290" y="543" width="11" height="5" fill="#ff0000"/>
<rect x="290" y="548" width="11" height="4" fill="#aa0000"/>
<rect x="290" y="552" width="11" height="5" fill="#ff3200"/>
<rect x="290" y="557" width="11" height="4" fill="#40f000"/>
<rect x="290" y="561" width="1" height="1" fill="#0050ff"/>
<rect x="291" y="561" width="1" height="1" fill="#0050ff"/>
<rect x="292" y="561" width="1" height="1" fill="#0050ff"/>
<rect x="293" y="561" width="1" height="1" fill="#0050ff"/>
<rect x="294" y="561" width="1" height="1" fill="#0096ff"/>
<rect x="295" y="561" width="1" height="1" fill="#0050ff"/>
<rect x="296" y="561" width="1" height="1" fill="#0050ff"/>
<rect x="297" y="561" width="1" height="1" fill="#0050ff"/>
<rect x="298" y="561" width="1" height="1" fill="#0096ff"/>
<rect x="299" y="561" width="1" height="1" fill="#0050ff"/>
<rect x="300" y="561" width="1" height="1" fill="#0096ff"/>
<rect x="290" y="562" width="1" height="1" fill="#0050ff"/>
<rect x="291" y="562" width="1" height="1" fill="#0050ff"/>
<rect x="292" y="562" width="1" height="1" fill="#0096ff"/>
<rect x="293" y="562" width="1" height="1" fill="#0050ff"/>
<rect x="294" y="562" width="1" height="1" fill="#0050ff"/>
<rect x="295" y="562" width="1" height="1" fill="#0050ff"/>
<rect x="296" y="562" width="1" height="1" fill="#0096ff"/>
<rect x="297" y="562" width="1" height="1" fill="#0050ff"/>
<rect x="298" y="562" width="1" height="1" fill="#0096ff"/>
<rect x="299" y="562" width="1" height="1" fill="#0096ff"/>
<rect x="300" y="562" width="1" height="1" fill="#0050ff"/>
<rect x="290" y="563" width="1" height="1" fill="#0050ff"/>
<rect x="291" y="563" width="1" height="1" fill="#0050ff"/>
<rect x="292" y="563" width="1" height="1" fill="#0050ff"/>
<rect x="293" y="563" width="1" height="1" fill="#0050ff"/>
<rect x="294" y="563" width="1" height="1" fill="#0050ff"/>
<rect x="295" y="563" width="1" height="1" fill="#0096ff"/>
<rect x="296" y="563" width="1" height="1" fill="#0050ff"/>
<rect x="297" y="563" width="1" height="1" fill="#0050ff"/>
<rect x="298" y="563" width="1" height="1" fill="#0050ff"/>
<rect x="299" y="563" width="1" height="1" fill="#0096ff"/>
<rect x="300" y="563" width="1" height="1" fill="#0096ff"/>
<rect x="290" y="564" width="1" height="1" fill="#0050ff"/>
<rect x="291" y="564" width="1" height="1" fill="#0050ff"/>
<rect x="292" y="564" width="1" height="1" fill="#0050ff"/>
<rect x="293" y="564" width="1" height="1" fill="#0050ff"/>
<rect x="294" y="564" width="1" height="1" fill="#0050ff"/>
<rect x="295" y="564" width="1" height="1" fill="#0050ff"/>
<rect x="296" y="564" width="1" height="1" fill="#0050ff"/>
<rect x="297" y="564" width="1" height="1" fill="#0050ff"/>
<rect x="298" y="564" width="1" height="1" fill="#0096ff"/>
<rect x="299" y="564" width="1" height="1" fill="#0096ff"/>
<rect x="300" y="564" width="1" height="1" fill="#0050ff"/>
<rect x="290" y="565" width="1" height="1" fill="#0000ff"/>
<rect x="291" y="565" width="1" height="1" fill="#300060"/>
<rect x="292" y="565" width="1" height="1" fill="#0000ff"/>
<rect x="293" y="565" width="1" height="1" fill="#0000ff"/>
<rect x="294" y="565" width="1" height="1" fill="#0000ff"/>
<rect x="295" y="565" width="1" height="1" fill="#0000ff"/>
<rect x="296" y="565" width="1" height="1" fill="#5000b4"/>
<rect x="297" y="565" width="1" height="1" fill="#5000b4"/>
<rect x="298" y="565" width="1" height="1" fill="#0000ff"/>
<rect x="299" y="565" width="1" height="1" fill="#5000b4"/>
<rect x="300" y="565" width="1" height="1" fill="#0000ff"/>
<rect x="290" y="566" width="1" height="1" fill="#0000ff"/>
<rect x="291" y="566" width="1" height="1" fill="#0000ff"/>
<rect x="292" y="566" width="1" height="1" fill="#0000ff"/>
<rect x="293" y="566" width="1" height="1" fill="#0000ff"/>
<rect x="294" y="566" width="1" height="1" fill="#0000ff"/>
<rect x="295" y="566" width="1" height="1" fill="#0000ff"/>
<rect x="296" y="566" width="1" height="1" fill="#0000ff"/>
<rect x="297" y="566" width="1" height="1" fill="#5000b4"/>
<rect x="298" y="566" width="1" height="1" fill="#5000b4"/>
<rect x="299" y="566" width="1" height="1" fill="#0064ff"/>
<rect x="300" y="566" width="1" height="1" fill="#5000b4"/>
<rect x="290" y="567" width="1" height="1" fill="#0064ff"/>
<rect x="291" y="567" width="1" height="1" fill="#0064ff"/>
<rect x="292" y="567" width="1" height="1" fill="#0000ff"/>
<rect x="293" y="567" width="1" height="1" fill="#0000ff"/>
<rect x="294" y="567" width="1" height="1" fill="#300060"/>
<rect x="295" y="567" width="1" height="1" fill="#0000ff"/>
<rect x="296" y="567" width="1" height="1" fill="#0064ff"/>
<rect x="297" y="567" width="1" height="1" fill="#5000b4"/>
<rect x="298" y="567" width="1" height="1" fill="#0000ff"/>
<rect x="299" y="567" width="1" height="1" fill="#0064ff"/>
<rect x="300" y="567" width="1" height="1" fill="#0064ff"/>
<rect x="290" y="568" width="1" height="1" fill="#5000b4"/>
<rect x="291" y="568" width="1" height="1" fill="#0064ff"/>
<rect x="292" y="568" width="1" height="1" fill="#0064ff"/>
<rect x="293" y="568" width="1" height="1" fill="#0000ff"/>
<rect x="294" y="568" width="1" height="1" fill="#5000b4"/>
<rect x="295" y="568" width="1" height="1" fill="#5000b4"/>
<rect x="296" y="568" width="1" height="1" fill="#0064ff"/>
<rect x="297" y="568" width="1" height="1" fill="#0064ff"/>
<rect x="298" y="568" width="1" height="1" fill="#0064ff"/>
<rect x="299" y="568" width="1" height="1" fill="#5000b4"/>
<rect x="300" y="568" width="1" height="1" fill="#0064ff"/>
<rect x="290" y="569" width="1" height="1" fill="#5000b4"/>
<rect x="291" y="569" width="1" height="1" fill="#5000b4"/>
<rect x="292" y="569" width="1" height="1" fill="#0000ff"/>
<rect x="293" y="569" width="1" height="1" fill="#0000ff"/>
<rect x="294" y="569" width="1" height="1" fill="#0000ff"/>
<rect x="295" y="569" width="1" height="1" fill="#0000ff"/>
<rect x="296" y="569" width="1" height="1" fill="#0000ff"/>
<rect x="297" y="569" width="1" height="1" fill="#0064ff"/>
<rect x="298" y="569" width="1" height="1" fill="#5000b4"/>
<rect x="299" y="569" width="1" height="1" fill="#5000b4"/>
<rect x="300" y="569" width="1" height="1" fill="#5000b4"/>
<rect x="290" y="570" width="1" height="1" fill="#5000b4"/>
<rect x="291" y="570" width="1" height="1" fill="#5000b4"/>
<rect x="292" y="570" width="1" height="1" fill="#0000ff"/>
<rect x="293" y="570" width="1" height="1" fill="#0064ff"/>
<rect x="294" y="570" width="1" height="1" fill="#0064ff"/>
<rect x="295" y="570" width="1" height="1" fill="#5000b4"/>
<rect x="296" y="570" width="1" height="1" fill="#5000b4"/>
<rect x="297" y="570" width="1" height="1" fill="#5000b4"/>
<rect x="298" y="570" width="1" height="1" fill="#0000ff"/>
<rect x="299" y="570" width="1" height="1" fill="#0064ff"/>
<rect x="300" y="570" width="1" height="1" fill="#0000ff"/>
<rect x="290" y="571" width="1" height="1" fill="#0000ff"/>
<rect x="291" y="571" width="1" height="1" fill="#0000ff"/>
<rect x="292" y="571" width="1" height="1" fill="#0064ff"/>
<rect x="293" y="571" width="1" height="1" fill="#0000ff"/>
<rect x="294" y="571" width="1" height="1" fill="#0064ff"/>
<rect x="295" y="571" width="1" height="1" fill="#300060"/>
<rect x="296" y="571" width="1" height="1" fill="#5000b4"/>
<rect x="297" y="571" width="1" height="1" fill="#0000ff"/>
<rect x="298" y="571" width="1" height="1" fill="#5000b4"/>
<rect x="299" y="571" width="1" height="1" fill="#5000b4"/>
<rect x="300" y="571" width="1" height="1" fill="#0064ff"/>
<rect x="290" y="572" width="1" height="1" fill="#5000b4"/>
<rect x="291" y="572" width="1" height="1" fill="#5000b4"/>
<rect x="292" y="572" width="1" height="1" fill="#0000ff"/>
<rect x="293" y="572" width="1" height="1" fill="#0000ff"/>
<rect x="294" y="572" width="1" height="1" fill="#0000ff"/>
<rect x="295" y="572" width="1" height="1" fill="#0064ff"/>
<rect x="296" y="572" width="1" height="1" fill="#0000ff"/>
<rect x="297" y="572" width="1" height="1" fill="#5000b4"/>
<rect x="298" y="572" width="1" height="1" fill="#0000ff"/>
<rect x="299" y="572" width="1" height="1" fill="#0000ff"/>
<rect x="300" y="572" width="1" height="1" fill="#0000ff"/>
<rect x="290" y="573" width="1" height="1" fill="#5000b4"/>
<rect x="291" y="573" width="1" height="1" fill="#5000b4"/>
<rect x="292" y="573" width="1" height="1" fill="#5000b4"/>
<rect x="293" y="573" width="1" height="1" fill="#0000ff"/>
<rect x="294" y="573" width="1" height="1" fill="#5000b4"/>
<rect x="295" y="573" width="1" height="1" fill="#5000b4"/>
<rect x="296" y="573" width="1" height="1" fill="#5000b4"/>
<rect x="297" y="573" width="1" height="1" fill="#0000ff"/>
<rect x="298" y="573" width="1" height="1" fill="#0064ff"/>
<rect x="299" y="573" width="1" height="1" fill="#0000ff"/>
<rect x="300" y="573" width="1" height="1" fill="#300060"/>
<rect x="290" y="574" width="1" height="1" fill="#300060"/>
<rect x="291" y="574" width="1" height="1" fill="#0000ff"/>
<rect x="292" y="574" width="1" height="1" fill="#5000b4"/>
<rect x="293" y="574" width="1" height="1" fill="#0064ff"/>
<rect x="294" y="574" width="1" height="1" fill="#300060"/>
<rect x="295" y="574" width="1" height="1" fill="#0000ff"/>
<rect x="296" y="574" width="1" height="1" fill="#0000ff"/>
<rect x="297" y="574" width="1" height="1" fill="#0000ff"/>
<rect x="298" y="574" width="1" height="1" fill="#300060"/>
<rect x="299" y="574" width="1" height="1" fill="#0000ff"/>
<rect x="300" y="574" width="1" height="1" fill="#5000b4"/>
<rect x="290" y="575" width="1" height="1" fill="#0000ff"/>
<rect x="291" y="575" width="1" height="1" fill="#5000b4"/>
<rect x="292" y="575" width="1" height="1" fill="#300060"/>
<rect x="293" y="575" width="1" height="1" fill="#0000ff"/>
<rect x="294" y="575" width="1" height="1" fill="#0064ff"/>
<rect x="295" y="575" width="1" height="1" fill="#5000b4"/>
<rect x="296" y="575" width="1" height="1" fill="#0064ff"/>
<rect x="297" y="575" width="1" height="1" fill="#0064ff"/>
<rect x="298" y="575" width="1" height="1" fill="#0000ff"/>
<rect x="299" y="575" width="1" height="1" fill="#0064ff"/>
<rect x="300" y="575" width="1" height="1" fill="#5000b4"/>
<rect x="293" y="499" width="6" height="2" fill="#000"/>
<rect x="289" y="510" width="13" height="2" fill="#000"/>
<rect x="705" y="148" width="8" height="66" fill="#000"/>
<rect x="706" y="149" width="6" height="64" fill="url(#cb)"/>
<rect x="710" y="161" width="2" height="1" fill="#000"/>
<rect x="710" y="173" width="2" height="1" fill="#000"/>
<rect x="710" y="185" width="2" height="1" fill="#000"/>
<rect x="710" y="197" width="2" height="1" fill="#000"/>
<rect x="710" y="209" width="2" height="1" fill="#000"/>
<rect x="705" y="511" width="8" height="66" fill="#000"/>
<rect x="706" y="512" width="6" height="64" fill="url(#cb)"/>
<rect x="710" y="524" width="2" height="1" fill="#000"/>
<rect x="710" y="536" width="2" height="1" fill="#000"/>
<rect x="710" y="548" width="2" height="1" fill="#000"/>
<rect x="710" y="560" width="2" height="1" fill="#000"/>
<rect x="710" y="572" width="2" height="1" fill="#000"/>
</g>
<g fill="#000" filter="url(#idf)">
<text x="65.90" y="32" font-size="11" textLength="33.65" lengthAdjust="spacingAndGlyphs" xml:space="preserve">10000</text>
<text x="72.87" y="50" font-size="11" textLength="27.68" lengthAdjust="spacingAndGlyphs" xml:space="preserve">1000</text>
<text x="79.88" y="68" font-size="11" textLength="20.52" lengthAdjust="spacingAndGlyphs" xml:space="preserve">100</text>
<text x="85.82" y="84" font-size="11" textLength="14.48" lengthAdjust="spacingAndGlyphs" xml:space="preserve">10</text>
<text transform="translate(48,60.50) rotate(-90)" x="0.00" y="0" font-size="11" textLength="16.25" lengthAdjust="spacingAndGlyphs" xml:space="preserve">tha</text>
<text transform="translate(58,64.35) rotate(-90)" x="0.00" y="0" font-size="11" textLength="25.20" lengthAdjust="spacingAndGlyphs" xml:space="preserve">peeb</text>
<text x="72.87" y="91" font-size="11" textLength="27.68" lengthAdjust="spacingAndGlyphs" xml:space="preserve">1000</text>
<text x="79.88" y="110" font-size="11" textLength="20.52" lengthAdjust="spacingAndGlyphs" xml:space="preserve">100</text>
<text x="85.82" y="131" font-size="11" textLength="14.48" lengthAdjust="spacingAndGlyphs" xml:space="preserve">10</text>
<text x="93.20" y="149" font-size="11" textLength="4.90" lengthAdjust="spacingAndGlyphs" xml:space="preserve">1</text>
<text transform="translate(54,125.50) rotate(-90)" x="0.00" y="0" font-size="11" textLength="17.34" lengthAdjust="spacingAndGlyphs" xml:space="preserve">thb</text>
<text transform="translate(64,129.35) rotate(-90)" x="0.00" y="0" font-size="11" textLength="25.20" lengthAdjust="spacingAndGlyphs" xml:space="preserve">peeb</text>
<text x="72.87" y="171" font-size="11" textLength="27.68" lengthAdjust="spacingAndGlyphs" xml:space="preserve">1000</text>
<text x="79.88" y="191" font-size="11" textLength="20.52" lengthAdjust="spacingAndGlyphs" xml:space="preserve">100</text>
<text x="85.82" y="211" font-size="11" textLength="14.48" lengthAdjust="spacingAndGlyphs" xml:space="preserve">10</text>
<text transform="translate(54,190.50) rotate(-90)" x="0.00" y="0" font-size="11" textLength="16.65" lengthAdjust="spacingAndGlyphs" xml:space="preserve">thc</text>
<text transform="translate(64,194.35) rotate(-90)" x="0.00" y="0" font-size="11" textLength="25.20" lengthAdjust="spacingAndGlyphs" xml:space="preserve">peeb</text>
<text x="65.90" y="227" font-size="11" textLength="33.65" lengthAdjust="spacingAndGlyphs" xml:space="preserve">10000</text>
<text x="72.87" y="244" font-size="11" textLength="27.68" lengthAdjust="spacingAndGlyphs" xml:space="preserve">1000</text>
<text x="79.88" y="262" font-size="11" textLength="20.52" lengthAdjust="spacingAndGlyphs" xml:space="preserve">100</text>
<text x="85.82" y="279" font-size="11" textLength="14.48" lengthAdjust="spacingAndGlyphs" xml:space="preserve">10</text>
<text transform="translate(48,255.50) rotate(-90)" x="0.00" y="0" font-size="11" textLength="17.34" lengthAdjust="spacingAndGlyphs" xml:space="preserve">thd</text>
<text transform="translate(58,259.35) rotate(-90)" x="0.00" y="0" font-size="11" textLength="25.20" lengthAdjust="spacingAndGlyphs" xml:space="preserve">peeb</text>
<text x="65.90" y="292" font-size="11" textLength="33.65" lengthAdjust="spacingAndGlyphs" xml:space="preserve">10000</text>
<text x="72.87" y="309" font-size="11" textLength="27.68" lengthAdjust="spacingAndGlyphs" xml:space="preserve">1000</text>
<text x="79.88" y="327" font-size="11" textLength="20.52" lengthAdjust="spacingAndGlyphs" xml:space="preserve">100</text>
<text x="85.82" y="344" font-size="11" textLength="14.48" lengthAdjust="spacingAndGlyphs" xml:space="preserve">10</text>
<text transform="translate(48,320.50) rotate(-90)" x="0.00" y="0" font-size="11" textLength="17.34" lengthAdjust="spacingAndGlyphs" xml:space="preserve">the</text>
<text transform="translate(58,324.35) rotate(-90)" x="0.00" y="0" font-size="11" textLength="25.20" lengthAdjust="spacingAndGlyphs" xml:space="preserve">peeb</text>
<text x="65.90" y="368" font-size="11" textLength="33.65" lengthAdjust="spacingAndGlyphs" xml:space="preserve">10000</text>
<text x="72.87" y="386" font-size="11" textLength="27.68" lengthAdjust="spacingAndGlyphs" xml:space="preserve">1000</text>
<text x="79.88" y="403" font-size="11" textLength="20.52" lengthAdjust="spacingAndGlyphs" xml:space="preserve">100</text>
<text x="85.82" y="421" font-size="11" textLength="14.48" lengthAdjust="spacingAndGlyphs" xml:space="preserve">10</text>
<text transform="translate(48,398.00) rotate(-90)" x="0.00" y="0" font-size="11" textLength="16.25" lengthAdjust="spacingAndGlyphs" xml:space="preserve">tha</text>
<text transform="translate(58,400.12) rotate(-90)" x="0.00" y="0" font-size="11" textLength="21.04" lengthAdjust="spacingAndGlyphs" xml:space="preserve">peib</text>
<text x="72.87" y="441" font-size="11" textLength="27.68" lengthAdjust="spacingAndGlyphs" xml:space="preserve">1000</text>
<text x="79.88" y="461" font-size="11" textLength="20.52" lengthAdjust="spacingAndGlyphs" xml:space="preserve">100</text>
<text x="85.82" y="482" font-size="11" textLength="14.48" lengthAdjust="spacingAndGlyphs" xml:space="preserve">10</text>
<text x="93.20" y="499" font-size="11" textLength="4.90" lengthAdjust="spacingAndGlyphs" xml:space="preserve">1</text>
<text transform="translate(54,475.50) rotate(-90)" x="0.00" y="0" font-size="11" textLength="17.34" lengthAdjust="spacingAndGlyphs" xml:space="preserve">thb</text>
<text transform="translate(64,477.62) rotate(-90)" x="0.00" y="0" font-size="11" textLength="21.04" lengthAdjust="spacingAndGlyphs" xml:space="preserve">peib</text>
<text x="72.87" y="546" font-size="11" textLength="27.68" lengthAdjust="spacingAndGlyphs" xml:space="preserve">1000</text>
<text transform="translate(54,553.50) rotate(-90)" x="0.00" y="0" font-size="11" textLength="16.65" lengthAdjust="spacingAndGlyphs" xml:space="preserve">thc</text>
<text transform="translate(64,555.62) rotate(-90)" x="0.00" y="0" font-size="11" textLength="21.04" lengthAdjust="spacingAndGlyphs" xml:space="preserve">peib</text>
<text x="65.90" y="601" font-size="11" textLength="33.65" lengthAdjust="spacingAndGlyphs" xml:space="preserve">10000</text>
<text x="72.87" y="619" font-size="11" textLength="27.68" lengthAdjust="spacingAndGlyphs" xml:space="preserve">1000</text>
<text x="79.88" y="637" font-size="11" textLength="20.52" lengthAdjust="spacingAndGlyphs" xml:space="preserve">100</text>
<text x="85.82" y="655" font-size="11" textLength="14.48" lengthAdjust="spacingAndGlyphs" xml:space="preserve">10</text>
<text transform="translate(48,631.50) rotate(-90)" x="0.00" y="0" font-size="11" textLength="17.34" lengthAdjust="spacingAndGlyphs" xml:space="preserve">thd</text>
<text transform="translate(58,633.62) rotate(-90)" x="0.00" y="0" font-size="11" textLength="21.04" lengthAdjust="spacingAndGlyphs" xml:space="preserve">peib</text>
<text x="65.90" y="679" font-size="11" textLength="33.65" lengthAdjust="spacingAndGlyphs" xml:space="preserve">10000</text>
<text x="72.87" y="697" font-size="11" textLength="27.68" lengthAdjust="spacingAndGlyphs" xml:space="preserve">1000</text>
<text x="79.88" y="715" font-size="11" textLength="20.52" lengthAdjust="spacingAndGlyphs" xml:space="preserve">100</text>
<text x="85.82" y="732" font-size="11" textLength="14.48" lengthAdjust="spacingAndGlyphs" xml:space="preserve">10</text>
<text transform="translate(48,709.50) rotate(-90)" x="0.00" y="0" font-size="11" textLength="17.34" lengthAdjust="spacingAndGlyphs" xml:space="preserve">the</text>
<text transform="translate(58,711.62) rotate(-90)" x="0.00" y="0" font-size="11" textLength="21.04" lengthAdjust="spacingAndGlyphs" xml:space="preserve">peib</text>
<text x="89.48" y="747" font-size="11" textLength="26.52" lengthAdjust="spacingAndGlyphs" xml:space="preserve">0000</text>
<text x="188.86" y="747" font-size="11" textLength="26.52" lengthAdjust="spacingAndGlyphs" xml:space="preserve">0100</text>
<text x="288.24" y="747" font-size="11" textLength="26.52" lengthAdjust="spacingAndGlyphs" xml:space="preserve">0200</text>
<text x="387.62" y="747" font-size="11" textLength="26.52" lengthAdjust="spacingAndGlyphs" xml:space="preserve">0300</text>
<text x="487.00" y="747" font-size="11" textLength="26.52" lengthAdjust="spacingAndGlyphs" xml:space="preserve">0400</text>
<text x="586.38" y="747" font-size="11" textLength="26.52" lengthAdjust="spacingAndGlyphs" xml:space="preserve">0500</text>
<text x="685.77" y="747" font-size="11" textLength="26.52" lengthAdjust="spacingAndGlyphs" xml:space="preserve">0600</text>
<text x="6.00" y="747" font-size="11" textLength="33.62" lengthAdjust="spacingAndGlyphs" xml:space="preserve">hhmm</text>
<text x="6.00" y="757" font-size="11" textLength="70.44" lengthAdjust="spacingAndGlyphs" xml:space="preserve">2020 Dec 15</text>
<text x="156.15" y="13" font-size="11" textLength="22.24" lengthAdjust="spacingAndGlyphs" xml:space="preserve">P5,</text>
<text x="183.60" y="13" font-size="11" textLength="23.12" lengthAdjust="spacingAndGlyphs" xml:space="preserve">P1,</text>
<text x="211.90" y="13" font-size="11" textLength="23.12" lengthAdjust="spacingAndGlyphs" xml:space="preserve">P2,</text>
<text x="240.83" y="13" font-size="11" textLength="22.57" lengthAdjust="spacingAndGlyphs" xml:space="preserve">P3,</text>
<text x="269.39" y="13" font-size="11" textLength="18.97" lengthAdjust="spacingAndGlyphs" xml:space="preserve">P4</text>
<text x="300.00" y="13" font-size="11" textLength="84.89" lengthAdjust="spacingAndGlyphs" xml:space="preserve">TH–A,B,C,D,E</text>
<text x="397.11" y="13" font-size="11" textLength="68.67" lengthAdjust="spacingAndGlyphs" xml:space="preserve">PEIB,PEEB</text>
<text x="471.26" y="13" font-size="11" textLength="34.90" lengthAdjust="spacingAndGlyphs" xml:space="preserve">EFlux</text>
<text x="513.00" y="13" font-size="11" textLength="13.47" lengthAdjust="spacingAndGlyphs" xml:space="preserve">eV</text>
<text x="543.00" y="13" font-size="11" textLength="15.39" lengthAdjust="spacingAndGlyphs" xml:space="preserve">eV</text>
<text x="566.00" y="13" font-size="11" textLength="19.91" lengthAdjust="spacingAndGlyphs" xml:space="preserve">cm</text>
<text x="598.00" y="13" font-size="11" textLength="21.15" lengthAdjust="spacingAndGlyphs" xml:space="preserve">sec</text>
<text x="627.00" y="13" font-size="11" textLength="12.23" lengthAdjust="spacingAndGlyphs" xml:space="preserve">sr</text>
<text x="294.00" y="13" font-size="13" xml:space="preserve">(</text>
<text x="385.50" y="13" font-size="13" xml:space="preserve">)</text>
<text x="528.50" y="16" font-size="16" xml:space="preserve">/</text>
<text x="537.50" y="13" font-size="13" xml:space="preserve">(</text>
<text x="559.00" y="16" font-size="14" xml:space="preserve">*</text>
<text x="591.00" y="16" font-size="14" xml:space="preserve">*</text>
<text x="620.00" y="16" font-size="14" xml:space="preserve">*</text>
<text x="639.00" y="13" font-size="13" xml:space="preserve">)</text>
<text x="586.00" y="7" font-size="8" textLength="5.57" lengthAdjust="spacingAndGlyphs" xml:space="preserve">2</text>
<text x="714.82" y="156" font-size="11" textLength="14.48" lengthAdjust="spacingAndGlyphs" xml:space="preserve">10</text>
<text x="729.00" y="151" font-size="8" textLength="5.57" lengthAdjust="spacingAndGlyphs" xml:space="preserve">8</text>
<text x="714.82" y="166" font-size="11" textLength="14.48" lengthAdjust="spacingAndGlyphs" xml:space="preserve">10</text>
<text x="729.00" y="161" font-size="8" textLength="5.57" lengthAdjust="spacingAndGlyphs" xml:space="preserve">7</text>
<text x="714.82" y="178" font-size="11" textLength="14.48" lengthAdjust="spacingAndGlyphs" xml:space="preserve">10</text>
<text x="729.00" y="173" font-size="8" textLength="5.57" lengthAdjust="spacingAndGlyphs" xml:space="preserve">6</text>
<text x="714.82" y="190" font-size="11" textLength="14.48" lengthAdjust="spacingAndGlyphs" xml:space="preserve">10</text>
<text x="729.00" y="185" font-size="8" textLength="5.57" lengthAdjust="spacingAndGlyphs" xml:space="preserve">5</text>
<text x="714.82" y="202" font-size="11" textLength="14.48" lengthAdjust="spacingAndGlyphs" xml:space="preserve">10</text>
<text x="729.00" y="197" font-size="8" textLength="5.57" lengthAdjust="spacingAndGlyphs" xml:space="preserve">4</text>
<text x="714.82" y="214" font-size="11" textLength="14.48" lengthAdjust="spacingAndGlyphs" xml:space="preserve">10</text>
<text x="729.00" y="209" font-size="8" textLength="5.57" lengthAdjust="spacingAndGlyphs" xml:space="preserve">3</text>
<text transform="translate(745,263.50) rotate(-90)" x="0.00" y="0" font-size="11" textLength="162.98" lengthAdjust="spacingAndGlyphs" xml:space="preserve">[eV/(cm2–s–sr–eV)  (All Qs)]</text>
<text x="714.82" y="519" font-size="11" textLength="14.48" lengthAdjust="spacingAndGlyphs" xml:space="preserve">10</text>
<text x="729.00" y="514" font-size="8" textLength="5.57" lengthAdjust="spacingAndGlyphs" xml:space="preserve">8</text>
<text x="714.82" y="529" font-size="11" textLength="14.48" lengthAdjust="spacingAndGlyphs" xml:space="preserve">10</text>
<text x="729.00" y="524" font-size="8" textLength="5.57" lengthAdjust="spacingAndGlyphs" xml:space="preserve">7</text>
<text x="714.82" y="541" font-size="11" textLength="14.48" lengthAdjust="spacingAndGlyphs" xml:space="preserve">10</text>
<text x="729.00" y="536" font-size="8" textLength="5.57" lengthAdjust="spacingAndGlyphs" xml:space="preserve">6</text>
<text x="714.82" y="553" font-size="11" textLength="14.48" lengthAdjust="spacingAndGlyphs" xml:space="preserve">10</text>
<text x="729.00" y="548" font-size="8" textLength="5.57" lengthAdjust="spacingAndGlyphs" xml:space="preserve">5</text>
<text x="714.82" y="565" font-size="11" textLength="14.48" lengthAdjust="spacingAndGlyphs" xml:space="preserve">10</text>
<text x="729.00" y="560" font-size="8" textLength="5.57" lengthAdjust="spacingAndGlyphs" xml:space="preserve">4</text>
<text x="714.82" y="577" font-size="11" textLength="14.48" lengthAdjust="spacingAndGlyphs" xml:space="preserve">10</text>
<text x="729.00" y="572" font-size="8" textLength="5.57" lengthAdjust="spacingAndGlyphs" xml:space="preserve">3</text>
<text transform="translate(745,626.50) rotate(-90)" x="0.00" y="0" font-size="11" textLength="162.98" lengthAdjust="spacingAndGlyphs" xml:space="preserve">[eV/(cm2–s–sr–eV)  (All Qs)]</text>
</g>
</svg>
</body></html>
